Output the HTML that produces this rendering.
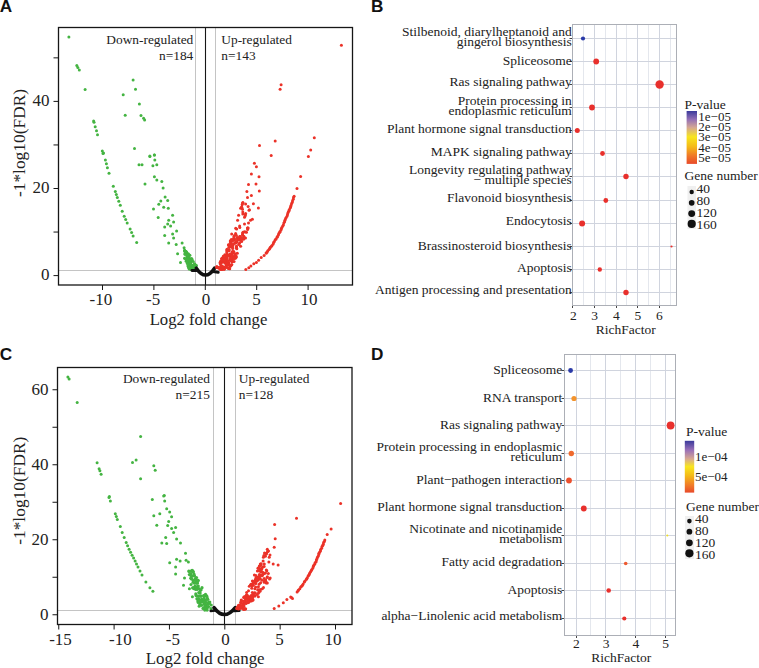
<!DOCTYPE html><html><head><meta charset="utf-8"><style>html,body{margin:0;padding:0;background:#fff;}svg{display:block;}</style></head><body><svg width="759" height="668" viewBox="0 0 759 668">
<rect width="759" height="668" fill="#ffffff"/>
<line x1="58.5" y1="270.5" x2="352.5" y2="270.5" stroke="#c4c4c4" stroke-width="1"/>
<line x1="195.5" y1="27.5" x2="195.5" y2="285.0" stroke="#c4c4c4" stroke-width="1"/>
<line x1="215.5" y1="27.5" x2="215.5" y2="285.0" stroke="#c4c4c4" stroke-width="1"/>
<line x1="205.5" y1="27.5" x2="205.5" y2="285.0" stroke="#161616" stroke-width="1.1"/>
<text x="193.3" y="43.6" font-family="Liberation Serif" font-size="13.4" text-anchor="end" fill="#222" >Down-regulated</text>
<text x="193.3" y="59.6" font-family="Liberation Serif" font-size="13.4" text-anchor="end" fill="#222" >n=184</text>
<text x="221.3" y="43.6" font-family="Liberation Serif" font-size="13.4" text-anchor="start" fill="#222" >Up-regulated</text>
<text x="221.3" y="59.6" font-family="Liberation Serif" font-size="13.4" text-anchor="start" fill="#222" >n=143</text>
<circle cx="68.9" cy="36.9" r="1.5" fill="#44b442"/>
<circle cx="76.8" cy="65.5" r="1.5" fill="#44b442"/>
<circle cx="77.8" cy="67.5" r="1.5" fill="#44b442"/>
<circle cx="79.3" cy="70.1" r="1.5" fill="#44b442"/>
<circle cx="85.1" cy="89.6" r="1.5" fill="#44b442"/>
<circle cx="133.1" cy="80.0" r="1.5" fill="#44b442"/>
<circle cx="135.5" cy="89.3" r="1.5" fill="#44b442"/>
<circle cx="123.2" cy="94.8" r="1.5" fill="#44b442"/>
<circle cx="139.4" cy="104.1" r="1.5" fill="#44b442"/>
<circle cx="125.2" cy="115.3" r="1.5" fill="#44b442"/>
<circle cx="141.0" cy="115.5" r="1.5" fill="#44b442"/>
<circle cx="143.6" cy="118.3" r="1.5" fill="#44b442"/>
<circle cx="144.6" cy="119.9" r="1.5" fill="#44b442"/>
<circle cx="134.5" cy="148.5" r="1.5" fill="#44b442"/>
<circle cx="149.9" cy="156.4" r="1.5" fill="#44b442"/>
<circle cx="154.4" cy="155.1" r="1.5" fill="#44b442"/>
<circle cx="93.6" cy="120.9" r="1.5" fill="#44b442"/>
<circle cx="94.0" cy="122.3" r="1.5" fill="#44b442"/>
<circle cx="95.2" cy="126.8" r="1.5" fill="#44b442"/>
<circle cx="96.5" cy="130.8" r="1.5" fill="#44b442"/>
<circle cx="97.5" cy="134.7" r="1.5" fill="#44b442"/>
<circle cx="102.3" cy="150.9" r="1.5" fill="#44b442"/>
<circle cx="103.0" cy="153.5" r="1.5" fill="#44b442"/>
<circle cx="103.5" cy="153.0" r="1.5" fill="#44b442"/>
<circle cx="105.4" cy="159.9" r="1.5" fill="#44b442"/>
<circle cx="106.4" cy="163.8" r="1.5" fill="#44b442"/>
<circle cx="107.4" cy="167.8" r="1.5" fill="#44b442"/>
<circle cx="109.0" cy="173.3" r="1.5" fill="#44b442"/>
<circle cx="113.3" cy="186.2" r="1.5" fill="#44b442"/>
<circle cx="115.3" cy="191.5" r="1.5" fill="#44b442"/>
<circle cx="116.3" cy="194.4" r="1.5" fill="#44b442"/>
<circle cx="117.3" cy="197.4" r="1.5" fill="#44b442"/>
<circle cx="118.8" cy="201.3" r="1.5" fill="#44b442"/>
<circle cx="120.3" cy="205.3" r="1.5" fill="#44b442"/>
<circle cx="122.2" cy="211.3" r="1.5" fill="#44b442"/>
<circle cx="124.2" cy="216.2" r="1.5" fill="#44b442"/>
<circle cx="125.7" cy="219.6" r="1.5" fill="#44b442"/>
<circle cx="127.2" cy="223.1" r="1.5" fill="#44b442"/>
<circle cx="130.1" cy="229.0" r="1.5" fill="#44b442"/>
<circle cx="131.6" cy="232.5" r="1.5" fill="#44b442"/>
<circle cx="133.1" cy="236.0" r="1.5" fill="#44b442"/>
<circle cx="136.7" cy="242.5" r="1.5" fill="#44b442"/>
<circle cx="149.9" cy="155.9" r="1.5" fill="#44b442"/>
<circle cx="154.4" cy="154.9" r="1.5" fill="#44b442"/>
<circle cx="154.8" cy="159.9" r="1.5" fill="#44b442"/>
<circle cx="156.8" cy="164.8" r="1.5" fill="#44b442"/>
<circle cx="152.9" cy="165.8" r="1.5" fill="#44b442"/>
<circle cx="139.0" cy="164.8" r="1.5" fill="#44b442"/>
<circle cx="142.0" cy="164.8" r="1.5" fill="#44b442"/>
<circle cx="154.4" cy="176.7" r="1.5" fill="#44b442"/>
<circle cx="156.8" cy="180.0" r="1.5" fill="#44b442"/>
<circle cx="161.8" cy="181.6" r="1.5" fill="#44b442"/>
<circle cx="163.1" cy="187.9" r="1.5" fill="#44b442"/>
<circle cx="145.0" cy="184.0" r="1.5" fill="#44b442"/>
<circle cx="165.1" cy="197.0" r="1.5" fill="#44b442"/>
<circle cx="167.7" cy="200.4" r="1.5" fill="#44b442"/>
<circle cx="160.8" cy="201.0" r="1.5" fill="#44b442"/>
<circle cx="158.8" cy="204.3" r="1.5" fill="#44b442"/>
<circle cx="163.7" cy="207.3" r="1.5" fill="#44b442"/>
<circle cx="168.3" cy="208.3" r="1.5" fill="#44b442"/>
<circle cx="153.5" cy="208.9" r="1.5" fill="#44b442"/>
<circle cx="172.6" cy="215.2" r="1.5" fill="#44b442"/>
<circle cx="158.2" cy="217.6" r="1.5" fill="#44b442"/>
<circle cx="168.7" cy="220.2" r="1.5" fill="#44b442"/>
<circle cx="173.6" cy="222.1" r="1.5" fill="#44b442"/>
<circle cx="167.7" cy="224.1" r="1.5" fill="#44b442"/>
<circle cx="170.6" cy="226.1" r="1.5" fill="#44b442"/>
<circle cx="164.7" cy="227.1" r="1.5" fill="#44b442"/>
<circle cx="176.6" cy="231.0" r="1.5" fill="#44b442"/>
<circle cx="172.6" cy="234.0" r="1.5" fill="#44b442"/>
<circle cx="164.7" cy="235.4" r="1.5" fill="#44b442"/>
<circle cx="173.6" cy="238.0" r="1.5" fill="#44b442"/>
<circle cx="168.7" cy="242.9" r="1.5" fill="#44b442"/>
<circle cx="176.2" cy="244.5" r="1.5" fill="#44b442"/>
<circle cx="182.1" cy="242.9" r="1.5" fill="#44b442"/>
<circle cx="184.1" cy="247.8" r="1.5" fill="#44b442"/>
<circle cx="177.6" cy="253.8" r="1.5" fill="#44b442"/>
<circle cx="186.5" cy="252.8" r="1.5" fill="#44b442"/>
<circle cx="184.5" cy="258.3" r="1.5" fill="#44b442"/>
<circle cx="180.5" cy="262.6" r="1.5" fill="#44b442"/>
<circle cx="188.4" cy="258.7" r="1.5" fill="#44b442"/>
<circle cx="190.4" cy="264.6" r="1.5" fill="#44b442"/>
<circle cx="192.4" cy="265.6" r="1.5" fill="#44b442"/>
<circle cx="184.7" cy="250.9" r="1.55" fill="#44b442"/>
<circle cx="189.5" cy="266.4" r="1.55" fill="#44b442"/>
<circle cx="185.5" cy="253.7" r="1.55" fill="#44b442"/>
<circle cx="192.3" cy="268.9" r="1.55" fill="#44b442"/>
<circle cx="185.7" cy="251.5" r="1.55" fill="#44b442"/>
<circle cx="188.0" cy="266.1" r="1.55" fill="#44b442"/>
<circle cx="186.2" cy="261.2" r="1.55" fill="#44b442"/>
<circle cx="188.0" cy="261.3" r="1.55" fill="#44b442"/>
<circle cx="189.9" cy="255.3" r="1.55" fill="#44b442"/>
<circle cx="194.5" cy="263.7" r="1.55" fill="#44b442"/>
<circle cx="187.1" cy="261.1" r="1.55" fill="#44b442"/>
<circle cx="190.9" cy="267.4" r="1.55" fill="#44b442"/>
<circle cx="189.4" cy="264.9" r="1.55" fill="#44b442"/>
<circle cx="185.9" cy="259.3" r="1.55" fill="#44b442"/>
<circle cx="193.2" cy="261.5" r="1.55" fill="#44b442"/>
<circle cx="191.6" cy="258.6" r="1.55" fill="#44b442"/>
<circle cx="195.1" cy="268.8" r="1.55" fill="#44b442"/>
<circle cx="190.2" cy="262.9" r="1.55" fill="#44b442"/>
<circle cx="189.0" cy="263.0" r="1.55" fill="#44b442"/>
<circle cx="186.1" cy="251.5" r="1.55" fill="#44b442"/>
<circle cx="185.5" cy="254.2" r="1.55" fill="#44b442"/>
<circle cx="189.1" cy="267.3" r="1.55" fill="#44b442"/>
<circle cx="191.2" cy="267.6" r="1.55" fill="#44b442"/>
<circle cx="194.9" cy="267.1" r="1.55" fill="#44b442"/>
<circle cx="187.6" cy="257.7" r="1.55" fill="#44b442"/>
<circle cx="188.6" cy="267.6" r="1.55" fill="#44b442"/>
<circle cx="186.2" cy="253.9" r="1.55" fill="#44b442"/>
<circle cx="187.0" cy="259.2" r="1.55" fill="#44b442"/>
<circle cx="188.8" cy="260.9" r="1.55" fill="#44b442"/>
<circle cx="190.8" cy="262.0" r="1.55" fill="#44b442"/>
<circle cx="195.9" cy="265.4" r="1.55" fill="#44b442"/>
<circle cx="195.6" cy="265.8" r="1.55" fill="#44b442"/>
<circle cx="189.1" cy="257.4" r="1.55" fill="#44b442"/>
<circle cx="184.6" cy="250.4" r="1.55" fill="#44b442"/>
<circle cx="186.6" cy="252.4" r="1.55" fill="#44b442"/>
<circle cx="187.2" cy="256.3" r="1.55" fill="#44b442"/>
<circle cx="195.3" cy="269.9" r="1.55" fill="#44b442"/>
<circle cx="190.1" cy="259.2" r="1.55" fill="#44b442"/>
<circle cx="185.0" cy="251.1" r="1.55" fill="#44b442"/>
<circle cx="188.4" cy="254.6" r="1.55" fill="#44b442"/>
<circle cx="190.9" cy="269.5" r="1.55" fill="#44b442"/>
<circle cx="187.3" cy="256.7" r="1.55" fill="#44b442"/>
<circle cx="191.0" cy="265.4" r="1.55" fill="#44b442"/>
<circle cx="188.3" cy="253.7" r="1.55" fill="#44b442"/>
<circle cx="194.8" cy="269.7" r="1.55" fill="#44b442"/>
<circle cx="195.3" cy="265.9" r="1.55" fill="#44b442"/>
<circle cx="194.8" cy="264.5" r="1.55" fill="#44b442"/>
<circle cx="186.9" cy="259.9" r="1.55" fill="#44b442"/>
<circle cx="187.3" cy="263.5" r="1.55" fill="#44b442"/>
<circle cx="186.8" cy="253.8" r="1.55" fill="#44b442"/>
<circle cx="186.5" cy="253.3" r="1.55" fill="#44b442"/>
<circle cx="192.2" cy="267.9" r="1.55" fill="#44b442"/>
<circle cx="192.6" cy="265.8" r="1.55" fill="#44b442"/>
<circle cx="196.1" cy="265.4" r="1.55" fill="#44b442"/>
<circle cx="188.3" cy="265.8" r="1.55" fill="#44b442"/>
<circle cx="189.2" cy="268.9" r="1.55" fill="#44b442"/>
<circle cx="185.5" cy="252.2" r="1.55" fill="#44b442"/>
<circle cx="196.0" cy="265.9" r="1.55" fill="#44b442"/>
<circle cx="188.5" cy="260.5" r="1.55" fill="#44b442"/>
<circle cx="190.9" cy="268.6" r="1.55" fill="#44b442"/>
<circle cx="189.7" cy="267.3" r="1.55" fill="#44b442"/>
<circle cx="187.2" cy="255.2" r="1.55" fill="#44b442"/>
<circle cx="187.0" cy="261.3" r="1.55" fill="#44b442"/>
<circle cx="187.3" cy="257.8" r="1.55" fill="#44b442"/>
<circle cx="188.6" cy="258.6" r="1.55" fill="#44b442"/>
<circle cx="191.7" cy="268.0" r="1.55" fill="#44b442"/>
<circle cx="189.5" cy="268.3" r="1.55" fill="#44b442"/>
<circle cx="190.6" cy="260.2" r="1.55" fill="#44b442"/>
<circle cx="186.1" cy="258.9" r="1.55" fill="#44b442"/>
<circle cx="188.2" cy="259.9" r="1.55" fill="#44b442"/>
<circle cx="191.3" cy="265.5" r="1.55" fill="#44b442"/>
<circle cx="187.2" cy="254.8" r="1.55" fill="#44b442"/>
<circle cx="191.4" cy="265.0" r="1.55" fill="#44b442"/>
<circle cx="192.1" cy="259.6" r="1.55" fill="#44b442"/>
<circle cx="190.7" cy="263.5" r="1.55" fill="#44b442"/>
<circle cx="189.9" cy="260.2" r="1.55" fill="#44b442"/>
<circle cx="190.3" cy="268.8" r="1.55" fill="#44b442"/>
<circle cx="193.2" cy="267.4" r="1.55" fill="#44b442"/>
<circle cx="191.4" cy="268.8" r="1.55" fill="#44b442"/>
<circle cx="184.8" cy="254.1" r="1.55" fill="#44b442"/>
<path d="M196.3,268.2 Q205.6,282 214.5,268.2" fill="none" stroke="#111" stroke-width="3.5" stroke-linecap="round"/><path d="M192,270.4 L196.5,270.5 M213,271.5 L218.2,272.2" fill="none" stroke="#111" stroke-width="3" stroke-linecap="round"/>
<circle cx="341.4" cy="45.2" r="1.5" fill="#eb3228"/>
<circle cx="281.1" cy="84.7" r="1.5" fill="#eb3228"/>
<circle cx="280.1" cy="89.3" r="1.5" fill="#eb3228"/>
<circle cx="314.3" cy="137.7" r="1.5" fill="#eb3228"/>
<circle cx="275.2" cy="141.0" r="1.5" fill="#eb3228"/>
<circle cx="259.5" cy="145.6" r="1.5" fill="#eb3228"/>
<circle cx="310.7" cy="150.1" r="1.5" fill="#eb3228"/>
<circle cx="271.2" cy="155.5" r="1.5" fill="#eb3228"/>
<circle cx="308.4" cy="156.4" r="1.5" fill="#eb3228"/>
<circle cx="245.8" cy="269.4" r="1.5" fill="#eb3228"/>
<circle cx="248.8" cy="267.8" r="1.5" fill="#eb3228"/>
<circle cx="250.9" cy="265.9" r="1.5" fill="#eb3228"/>
<circle cx="253.8" cy="263.8" r="1.5" fill="#eb3228"/>
<circle cx="256.4" cy="262.5" r="1.5" fill="#eb3228"/>
<circle cx="258.6" cy="260.2" r="1.5" fill="#eb3228"/>
<circle cx="261.2" cy="257.6" r="1.5" fill="#eb3228"/>
<circle cx="264.1" cy="255.6" r="1.5" fill="#eb3228"/>
<circle cx="266.3" cy="253.1" r="1.5" fill="#eb3228"/>
<circle cx="266.1" cy="253.1" r="1.5" fill="#eb3228"/>
<circle cx="267.2" cy="251.9" r="1.5" fill="#eb3228"/>
<circle cx="267.8" cy="250.7" r="1.5" fill="#eb3228"/>
<circle cx="269.0" cy="249.4" r="1.5" fill="#eb3228"/>
<circle cx="269.8" cy="248.5" r="1.5" fill="#eb3228"/>
<circle cx="270.3" cy="247.3" r="1.5" fill="#eb3228"/>
<circle cx="271.5" cy="246.3" r="1.5" fill="#eb3228"/>
<circle cx="272.0" cy="245.4" r="1.5" fill="#eb3228"/>
<circle cx="273.2" cy="244.1" r="1.5" fill="#eb3228"/>
<circle cx="273.6" cy="242.4" r="1.5" fill="#eb3228"/>
<circle cx="274.3" cy="241.4" r="1.5" fill="#eb3228"/>
<circle cx="275.2" cy="239.8" r="1.5" fill="#eb3228"/>
<circle cx="276.1" cy="239.0" r="1.5" fill="#eb3228"/>
<circle cx="277.1" cy="237.3" r="1.5" fill="#eb3228"/>
<circle cx="277.4" cy="236.4" r="1.5" fill="#eb3228"/>
<circle cx="278.4" cy="235.0" r="1.5" fill="#eb3228"/>
<circle cx="278.8" cy="233.4" r="1.5" fill="#eb3228"/>
<circle cx="279.8" cy="232.3" r="1.5" fill="#eb3228"/>
<circle cx="280.0" cy="231.4" r="1.5" fill="#eb3228"/>
<circle cx="281.0" cy="230.0" r="1.5" fill="#eb3228"/>
<circle cx="281.3" cy="228.8" r="1.5" fill="#eb3228"/>
<circle cx="281.9" cy="227.5" r="1.5" fill="#eb3228"/>
<circle cx="282.7" cy="226.0" r="1.5" fill="#eb3228"/>
<circle cx="283.4" cy="225.1" r="1.5" fill="#eb3228"/>
<circle cx="283.8" cy="223.1" r="1.5" fill="#eb3228"/>
<circle cx="284.6" cy="221.8" r="1.5" fill="#eb3228"/>
<circle cx="284.9" cy="220.3" r="1.5" fill="#eb3228"/>
<circle cx="285.5" cy="218.8" r="1.5" fill="#eb3228"/>
<circle cx="286.2" cy="217.5" r="1.5" fill="#eb3228"/>
<circle cx="287.1" cy="216.0" r="1.5" fill="#eb3228"/>
<circle cx="287.5" cy="214.5" r="1.5" fill="#eb3228"/>
<circle cx="287.9" cy="213.1" r="1.5" fill="#eb3228"/>
<circle cx="288.4" cy="211.7" r="1.5" fill="#eb3228"/>
<circle cx="289.1" cy="210.7" r="1.5" fill="#eb3228"/>
<circle cx="289.3" cy="209.4" r="1.5" fill="#eb3228"/>
<circle cx="290.3" cy="207.8" r="1.5" fill="#eb3228"/>
<circle cx="290.7" cy="206.7" r="1.5" fill="#eb3228"/>
<circle cx="291.0" cy="205.4" r="1.5" fill="#eb3228"/>
<circle cx="291.5" cy="203.7" r="1.5" fill="#eb3228"/>
<circle cx="292.2" cy="202.5" r="1.5" fill="#eb3228"/>
<circle cx="292.5" cy="200.9" r="1.5" fill="#eb3228"/>
<circle cx="293.2" cy="199.3" r="1.5" fill="#eb3228"/>
<circle cx="293.5" cy="197.6" r="1.5" fill="#eb3228"/>
<circle cx="294.1" cy="196.2" r="1.5" fill="#eb3228"/>
<circle cx="297.0" cy="188.5" r="1.5" fill="#eb3228"/>
<circle cx="300.6" cy="176.4" r="1.5" fill="#eb3228"/>
<circle cx="254.4" cy="163.2" r="1.5" fill="#eb3228"/>
<circle cx="256.4" cy="166.8" r="1.5" fill="#eb3228"/>
<circle cx="251.4" cy="174.1" r="1.5" fill="#eb3228"/>
<circle cx="259.0" cy="176.7" r="1.5" fill="#eb3228"/>
<circle cx="248.5" cy="184.6" r="1.5" fill="#eb3228"/>
<circle cx="256.0" cy="184.0" r="1.5" fill="#eb3228"/>
<circle cx="246.9" cy="191.5" r="1.5" fill="#eb3228"/>
<circle cx="259.3" cy="191.1" r="1.5" fill="#eb3228"/>
<circle cx="247.5" cy="197.4" r="1.5" fill="#eb3228"/>
<circle cx="251.4" cy="195.5" r="1.5" fill="#eb3228"/>
<circle cx="253.4" cy="203.8" r="1.5" fill="#eb3228"/>
<circle cx="242.5" cy="203.4" r="1.5" fill="#eb3228"/>
<circle cx="258.4" cy="207.9" r="1.5" fill="#eb3228"/>
<circle cx="240.6" cy="208.3" r="1.5" fill="#eb3228"/>
<circle cx="238.6" cy="215.2" r="1.5" fill="#eb3228"/>
<circle cx="244.5" cy="217.2" r="1.5" fill="#eb3228"/>
<circle cx="252.4" cy="219.2" r="1.5" fill="#eb3228"/>
<circle cx="237.6" cy="220.2" r="1.5" fill="#eb3228"/>
<circle cx="248.5" cy="223.1" r="1.5" fill="#eb3228"/>
<circle cx="239.6" cy="226.1" r="1.5" fill="#eb3228"/>
<circle cx="247.5" cy="228.1" r="1.5" fill="#eb3228"/>
<circle cx="236.6" cy="229.0" r="1.5" fill="#eb3228"/>
<circle cx="245.5" cy="232.0" r="1.5" fill="#eb3228"/>
<circle cx="231.7" cy="234.0" r="1.5" fill="#eb3228"/>
<circle cx="242.5" cy="235.0" r="1.5" fill="#eb3228"/>
<circle cx="245.5" cy="238.0" r="1.5" fill="#eb3228"/>
<circle cx="234.6" cy="238.9" r="1.5" fill="#eb3228"/>
<circle cx="230.7" cy="240.9" r="1.5" fill="#eb3228"/>
<circle cx="239.6" cy="242.9" r="1.5" fill="#eb3228"/>
<circle cx="228.7" cy="244.9" r="1.5" fill="#eb3228"/>
<circle cx="236.6" cy="246.8" r="1.5" fill="#eb3228"/>
<circle cx="226.7" cy="250.8" r="1.5" fill="#eb3228"/>
<circle cx="232.7" cy="252.8" r="1.5" fill="#eb3228"/>
<circle cx="224.8" cy="254.7" r="1.5" fill="#eb3228"/>
<circle cx="230.7" cy="256.7" r="1.5" fill="#eb3228"/>
<circle cx="222.8" cy="258.7" r="1.5" fill="#eb3228"/>
<circle cx="226.7" cy="261.7" r="1.5" fill="#eb3228"/>
<circle cx="220.8" cy="263.6" r="1.5" fill="#eb3228"/>
<circle cx="216.9" cy="266.6" r="1.5" fill="#eb3228"/>
<circle cx="217.5" cy="267.6" r="1.55" fill="#eb3228"/>
<circle cx="221.9" cy="258.6" r="1.55" fill="#eb3228"/>
<circle cx="222.2" cy="261.9" r="1.55" fill="#eb3228"/>
<circle cx="221.5" cy="269.4" r="1.55" fill="#eb3228"/>
<circle cx="222.5" cy="260.3" r="1.55" fill="#eb3228"/>
<circle cx="226.2" cy="262.5" r="1.55" fill="#eb3228"/>
<circle cx="220.1" cy="262.6" r="1.55" fill="#eb3228"/>
<circle cx="222.4" cy="258.5" r="1.55" fill="#eb3228"/>
<circle cx="228.7" cy="262.9" r="1.55" fill="#eb3228"/>
<circle cx="224.3" cy="259.9" r="1.55" fill="#eb3228"/>
<circle cx="231.8" cy="264.6" r="1.55" fill="#eb3228"/>
<circle cx="216.6" cy="267.5" r="1.55" fill="#eb3228"/>
<circle cx="226.9" cy="267.5" r="1.55" fill="#eb3228"/>
<circle cx="228.7" cy="268.4" r="1.55" fill="#eb3228"/>
<circle cx="230.9" cy="265.4" r="1.55" fill="#eb3228"/>
<circle cx="218.0" cy="267.5" r="1.55" fill="#eb3228"/>
<circle cx="228.1" cy="264.4" r="1.55" fill="#eb3228"/>
<circle cx="229.6" cy="265.2" r="1.55" fill="#eb3228"/>
<circle cx="226.6" cy="255.0" r="1.55" fill="#eb3228"/>
<circle cx="226.9" cy="263.0" r="1.55" fill="#eb3228"/>
<circle cx="230.4" cy="256.0" r="1.55" fill="#eb3228"/>
<circle cx="232.1" cy="258.8" r="1.55" fill="#eb3228"/>
<circle cx="231.9" cy="258.1" r="1.55" fill="#eb3228"/>
<circle cx="226.7" cy="260.7" r="1.55" fill="#eb3228"/>
<circle cx="226.3" cy="265.3" r="1.55" fill="#eb3228"/>
<circle cx="230.0" cy="256.2" r="1.55" fill="#eb3228"/>
<circle cx="232.2" cy="259.6" r="1.55" fill="#eb3228"/>
<circle cx="228.3" cy="255.2" r="1.55" fill="#eb3228"/>
<circle cx="230.7" cy="265.4" r="1.55" fill="#eb3228"/>
<circle cx="230.7" cy="259.4" r="1.55" fill="#eb3228"/>
<circle cx="227.2" cy="262.0" r="1.55" fill="#eb3228"/>
<circle cx="226.0" cy="256.8" r="1.55" fill="#eb3228"/>
<circle cx="235.6" cy="258.0" r="1.55" fill="#eb3228"/>
<circle cx="225.7" cy="259.0" r="1.55" fill="#eb3228"/>
<circle cx="220.3" cy="269.2" r="1.55" fill="#eb3228"/>
<circle cx="220.3" cy="263.7" r="1.55" fill="#eb3228"/>
<circle cx="220.8" cy="268.5" r="1.55" fill="#eb3228"/>
<circle cx="226.5" cy="255.4" r="1.55" fill="#eb3228"/>
<circle cx="225.7" cy="259.5" r="1.55" fill="#eb3228"/>
<circle cx="222.7" cy="267.6" r="1.55" fill="#eb3228"/>
<circle cx="234.4" cy="256.8" r="1.55" fill="#eb3228"/>
<circle cx="223.9" cy="260.9" r="1.55" fill="#eb3228"/>
<circle cx="223.7" cy="261.4" r="1.55" fill="#eb3228"/>
<circle cx="217.9" cy="267.5" r="1.55" fill="#eb3228"/>
<circle cx="222.0" cy="269.0" r="1.55" fill="#eb3228"/>
<circle cx="227.0" cy="257.8" r="1.55" fill="#eb3228"/>
<circle cx="224.0" cy="269.3" r="1.55" fill="#eb3228"/>
<circle cx="229.7" cy="268.7" r="1.55" fill="#eb3228"/>
<circle cx="231.7" cy="255.7" r="1.55" fill="#eb3228"/>
<circle cx="232.0" cy="261.8" r="1.55" fill="#eb3228"/>
<circle cx="236.4" cy="256.9" r="1.55" fill="#eb3228"/>
<circle cx="226.2" cy="260.2" r="1.55" fill="#eb3228"/>
<circle cx="222.3" cy="266.1" r="1.55" fill="#eb3228"/>
<circle cx="230.3" cy="259.5" r="1.55" fill="#eb3228"/>
<circle cx="228.1" cy="260.9" r="1.55" fill="#eb3228"/>
<circle cx="220.3" cy="268.6" r="1.55" fill="#eb3228"/>
<circle cx="226.7" cy="258.3" r="1.55" fill="#eb3228"/>
<circle cx="225.7" cy="257.1" r="1.55" fill="#eb3228"/>
<circle cx="223.3" cy="256.4" r="1.55" fill="#eb3228"/>
<circle cx="228.4" cy="268.3" r="1.55" fill="#eb3228"/>
<circle cx="232.4" cy="261.2" r="1.55" fill="#eb3228"/>
<circle cx="224.9" cy="262.9" r="1.55" fill="#eb3228"/>
<circle cx="224.0" cy="260.1" r="1.55" fill="#eb3228"/>
<circle cx="226.9" cy="264.4" r="1.55" fill="#eb3228"/>
<circle cx="234.9" cy="258.2" r="1.55" fill="#eb3228"/>
<circle cx="221.7" cy="258.7" r="1.55" fill="#eb3228"/>
<circle cx="224.6" cy="261.7" r="1.55" fill="#eb3228"/>
<circle cx="235.2" cy="255.3" r="1.55" fill="#eb3228"/>
<circle cx="228.8" cy="255.0" r="1.55" fill="#eb3228"/>
<circle cx="224.4" cy="268.9" r="1.55" fill="#eb3228"/>
<circle cx="227.3" cy="265.2" r="1.55" fill="#eb3228"/>
<circle cx="230.1" cy="266.5" r="1.55" fill="#eb3228"/>
<circle cx="225.8" cy="263.3" r="1.55" fill="#eb3228"/>
<circle cx="220.8" cy="268.8" r="1.55" fill="#eb3228"/>
<circle cx="230.1" cy="259.6" r="1.55" fill="#eb3228"/>
<circle cx="229.9" cy="265.5" r="1.55" fill="#eb3228"/>
<circle cx="227.3" cy="263.7" r="1.55" fill="#eb3228"/>
<circle cx="224.3" cy="258.4" r="1.55" fill="#eb3228"/>
<circle cx="229.1" cy="255.2" r="1.55" fill="#eb3228"/>
<circle cx="222.4" cy="261.9" r="1.55" fill="#eb3228"/>
<circle cx="226.8" cy="265.1" r="1.55" fill="#eb3228"/>
<circle cx="225.0" cy="258.9" r="1.55" fill="#eb3228"/>
<circle cx="223.2" cy="261.3" r="1.55" fill="#eb3228"/>
<circle cx="230.9" cy="258.0" r="1.55" fill="#eb3228"/>
<circle cx="226.9" cy="258.1" r="1.55" fill="#eb3228"/>
<circle cx="234.0" cy="258.5" r="1.55" fill="#eb3228"/>
<circle cx="220.6" cy="266.4" r="1.55" fill="#eb3228"/>
<circle cx="222.2" cy="269.3" r="1.55" fill="#eb3228"/>
<circle cx="226.7" cy="257.8" r="1.55" fill="#eb3228"/>
<circle cx="220.6" cy="261.3" r="1.55" fill="#eb3228"/>
<circle cx="219.8" cy="269.0" r="1.55" fill="#eb3228"/>
<circle cx="232.3" cy="255.5" r="1.55" fill="#eb3228"/>
<circle cx="230.5" cy="260.7" r="1.55" fill="#eb3228"/>
<circle cx="224.0" cy="260.0" r="1.55" fill="#eb3228"/>
<circle cx="221.9" cy="260.3" r="1.55" fill="#eb3228"/>
<circle cx="223.6" cy="267.3" r="1.55" fill="#eb3228"/>
<circle cx="234.0" cy="261.5" r="1.55" fill="#eb3228"/>
<circle cx="223.9" cy="268.8" r="1.55" fill="#eb3228"/>
<circle cx="235.7" cy="255.5" r="1.55" fill="#eb3228"/>
<circle cx="224.8" cy="267.2" r="1.55" fill="#eb3228"/>
<circle cx="240.0" cy="236.6" r="1.55" fill="#eb3228"/>
<circle cx="230.8" cy="241.0" r="1.55" fill="#eb3228"/>
<circle cx="229.1" cy="249.6" r="1.55" fill="#eb3228"/>
<circle cx="230.3" cy="241.1" r="1.55" fill="#eb3228"/>
<circle cx="243.8" cy="236.3" r="1.55" fill="#eb3228"/>
<circle cx="228.5" cy="244.9" r="1.55" fill="#eb3228"/>
<circle cx="231.8" cy="240.6" r="1.55" fill="#eb3228"/>
<circle cx="232.7" cy="245.3" r="1.55" fill="#eb3228"/>
<circle cx="243.5" cy="239.3" r="1.55" fill="#eb3228"/>
<circle cx="236.6" cy="242.1" r="1.55" fill="#eb3228"/>
<circle cx="230.4" cy="242.7" r="1.55" fill="#eb3228"/>
<circle cx="240.3" cy="237.3" r="1.55" fill="#eb3228"/>
<circle cx="227.7" cy="250.3" r="1.55" fill="#eb3228"/>
<circle cx="230.5" cy="254.6" r="1.55" fill="#eb3228"/>
<circle cx="238.8" cy="244.4" r="1.55" fill="#eb3228"/>
<circle cx="236.8" cy="248.7" r="1.55" fill="#eb3228"/>
<circle cx="237.8" cy="238.1" r="1.55" fill="#eb3228"/>
<circle cx="241.6" cy="241.4" r="1.55" fill="#eb3228"/>
<circle cx="235.7" cy="243.0" r="1.55" fill="#eb3228"/>
<circle cx="239.4" cy="239.6" r="1.55" fill="#eb3228"/>
<circle cx="226.8" cy="252.8" r="1.55" fill="#eb3228"/>
<circle cx="235.9" cy="242.1" r="1.55" fill="#eb3228"/>
<circle cx="232.0" cy="254.9" r="1.55" fill="#eb3228"/>
<circle cx="234.4" cy="240.2" r="1.55" fill="#eb3228"/>
<circle cx="233.7" cy="251.5" r="1.55" fill="#eb3228"/>
<circle cx="229.1" cy="250.7" r="1.55" fill="#eb3228"/>
<circle cx="243.8" cy="237.8" r="1.55" fill="#eb3228"/>
<circle cx="236.3" cy="247.7" r="1.55" fill="#eb3228"/>
<circle cx="229.0" cy="247.3" r="1.55" fill="#eb3228"/>
<circle cx="237.5" cy="239.7" r="1.55" fill="#eb3228"/>
<circle cx="238.1" cy="239.4" r="1.55" fill="#eb3228"/>
<circle cx="240.6" cy="246.3" r="1.55" fill="#eb3228"/>
<circle cx="232.0" cy="246.4" r="1.55" fill="#eb3228"/>
<circle cx="237.2" cy="237.6" r="1.55" fill="#eb3228"/>
<circle cx="227.0" cy="249.2" r="1.55" fill="#eb3228"/>
<circle cx="232.3" cy="241.2" r="1.55" fill="#eb3228"/>
<circle cx="230.1" cy="254.1" r="1.55" fill="#eb3228"/>
<circle cx="230.2" cy="246.7" r="1.55" fill="#eb3228"/>
<circle cx="231.2" cy="243.8" r="1.55" fill="#eb3228"/>
<circle cx="231.3" cy="239.6" r="1.55" fill="#eb3228"/>
<circle cx="239.2" cy="239.7" r="1.55" fill="#eb3228"/>
<circle cx="232.6" cy="251.6" r="1.55" fill="#eb3228"/>
<circle cx="232.2" cy="252.8" r="1.55" fill="#eb3228"/>
<circle cx="233.4" cy="238.9" r="1.55" fill="#eb3228"/>
<circle cx="237.3" cy="253.3" r="1.55" fill="#eb3228"/>
<circle cx="231.5" cy="245.5" r="1.55" fill="#eb3228"/>
<circle cx="234.7" cy="253.6" r="1.55" fill="#eb3228"/>
<circle cx="233.9" cy="236.8" r="1.55" fill="#eb3228"/>
<circle cx="241.2" cy="238.9" r="1.55" fill="#eb3228"/>
<circle cx="240.4" cy="240.1" r="1.55" fill="#eb3228"/>
<circle cx="232.2" cy="252.0" r="1.55" fill="#eb3228"/>
<circle cx="241.3" cy="239.3" r="1.55" fill="#eb3228"/>
<circle cx="234.6" cy="243.2" r="1.55" fill="#eb3228"/>
<circle cx="239.8" cy="236.5" r="1.55" fill="#eb3228"/>
<circle cx="241.5" cy="238.1" r="1.55" fill="#eb3228"/>
<circle cx="236.4" cy="246.4" r="1.55" fill="#eb3228"/>
<circle cx="237.0" cy="241.7" r="1.55" fill="#eb3228"/>
<circle cx="232.5" cy="247.0" r="1.55" fill="#eb3228"/>
<circle cx="232.7" cy="248.4" r="1.55" fill="#eb3228"/>
<circle cx="233.1" cy="244.2" r="1.55" fill="#eb3228"/>
<circle cx="242.5" cy="209.2" r="1.5" fill="#eb3228"/>
<circle cx="248.2" cy="228.1" r="1.5" fill="#eb3228"/>
<circle cx="241.8" cy="207.2" r="1.5" fill="#eb3228"/>
<circle cx="242.1" cy="204.7" r="1.5" fill="#eb3228"/>
<circle cx="242.9" cy="202.4" r="1.5" fill="#eb3228"/>
<circle cx="245.6" cy="203.9" r="1.5" fill="#eb3228"/>
<circle cx="247.6" cy="228.1" r="1.5" fill="#eb3228"/>
<circle cx="242.9" cy="202.9" r="1.5" fill="#eb3228"/>
<circle cx="242.8" cy="214.1" r="1.5" fill="#eb3228"/>
<circle cx="247.6" cy="229.4" r="1.5" fill="#eb3228"/>
<circle cx="236.3" cy="235.2" r="1.5" fill="#eb3228"/>
<circle cx="242.5" cy="234.3" r="1.5" fill="#eb3228"/>
<circle cx="248.1" cy="206.5" r="1.5" fill="#eb3228"/>
<circle cx="242.7" cy="233.0" r="1.5" fill="#eb3228"/>
<circle cx="242.8" cy="212.1" r="1.5" fill="#eb3228"/>
<circle cx="235.6" cy="233.6" r="1.5" fill="#eb3228"/>
<circle cx="246.5" cy="232.2" r="1.5" fill="#eb3228"/>
<circle cx="235.7" cy="228.3" r="1.5" fill="#eb3228"/>
<circle cx="245.6" cy="213.5" r="1.5" fill="#eb3228"/>
<circle cx="250.5" cy="220.3" r="1.5" fill="#eb3228"/>
<circle cx="244.4" cy="231.7" r="1.5" fill="#eb3228"/>
<circle cx="234.4" cy="235.6" r="1.5" fill="#eb3228"/>
<circle cx="245.4" cy="214.7" r="1.5" fill="#eb3228"/>
<circle cx="249.0" cy="210.2" r="1.5" fill="#eb3228"/>
<circle cx="239.8" cy="227.6" r="1.5" fill="#eb3228"/>
<circle cx="241.5" cy="207.2" r="1.5" fill="#eb3228"/>
<circle cx="249.4" cy="209.8" r="1.5" fill="#eb3228"/>
<circle cx="244.5" cy="224.1" r="1.5" fill="#eb3228"/>
<circle cx="245.1" cy="216.0" r="1.5" fill="#eb3228"/>
<circle cx="243.0" cy="232.2" r="1.5" fill="#eb3228"/>
<rect x="58.5" y="27.5" width="294.0" height="257.5" fill="none" stroke="#161616" stroke-width="1.3"/>
<line x1="102.50000000000001" y1="285.0" x2="102.50000000000001" y2="290.0" stroke="#161616" stroke-width="1"/>
<text x="100.9" y="304.8" font-family="Liberation Serif" font-size="17" text-anchor="middle" fill="#222" >-10</text>
<line x1="153.9" y1="285.0" x2="153.9" y2="290.0" stroke="#161616" stroke-width="1"/>
<text x="153.1" y="304.8" font-family="Liberation Serif" font-size="17" text-anchor="middle" fill="#222" >-5</text>
<line x1="205.3" y1="285.0" x2="205.3" y2="290.0" stroke="#161616" stroke-width="1"/>
<text x="205.9" y="304.8" font-family="Liberation Serif" font-size="17" text-anchor="middle" fill="#222" >0</text>
<line x1="256.7" y1="285.0" x2="256.7" y2="290.0" stroke="#161616" stroke-width="1"/>
<text x="256.5" y="304.8" font-family="Liberation Serif" font-size="17" text-anchor="middle" fill="#222" >5</text>
<line x1="308.1" y1="285.0" x2="308.1" y2="290.0" stroke="#161616" stroke-width="1"/>
<text x="309.1" y="304.8" font-family="Liberation Serif" font-size="17" text-anchor="middle" fill="#222" >10</text>
<line x1="53.5" y1="275.6" x2="58.5" y2="275.6" stroke="#161616" stroke-width="1"/>
<text x="49.5" y="280.40000000000003" font-family="Liberation Serif" font-size="17" text-anchor="end" fill="#222" >0</text>
<line x1="53.5" y1="232.05" x2="58.5" y2="232.05" stroke="#161616" stroke-width="1"/>
<line x1="53.5" y1="188.5" x2="58.5" y2="188.5" stroke="#161616" stroke-width="1"/>
<text x="49.5" y="193.3" font-family="Liberation Serif" font-size="17" text-anchor="end" fill="#222" >20</text>
<line x1="53.5" y1="144.95000000000002" x2="58.5" y2="144.95000000000002" stroke="#161616" stroke-width="1"/>
<line x1="53.5" y1="101.4" x2="58.5" y2="101.4" stroke="#161616" stroke-width="1"/>
<text x="49.5" y="106.2" font-family="Liberation Serif" font-size="17" text-anchor="end" fill="#222" >40</text>
<line x1="53.5" y1="57.849999999999994" x2="58.5" y2="57.849999999999994" stroke="#161616" stroke-width="1"/>
<text x="208.5" y="324.5" font-family="Liberation Serif" font-size="16.7" text-anchor="middle" fill="#222" >Log2 fold change</text>
<text transform="translate(24.8,143) rotate(-90)" font-family="Liberation Serif" font-size="17.4" text-anchor="middle" fill="#222">-1*log10(FDR)</text>
<line x1="57.5" y1="610.5" x2="352.0" y2="610.5" stroke="#c4c4c4" stroke-width="1"/>
<line x1="213.5" y1="367.5" x2="213.5" y2="624.5" stroke="#c4c4c4" stroke-width="1"/>
<line x1="235.5" y1="367.5" x2="235.5" y2="624.5" stroke="#c4c4c4" stroke-width="1"/>
<line x1="224.5" y1="367.5" x2="224.5" y2="624.5" stroke="#161616" stroke-width="1.1"/>
<text x="209.9" y="383.3" font-family="Liberation Serif" font-size="13.4" text-anchor="end" fill="#222" >Down-regulated</text>
<text x="209.9" y="398.8" font-family="Liberation Serif" font-size="13.4" text-anchor="end" fill="#222" >n=215</text>
<text x="238.8" y="383.3" font-family="Liberation Serif" font-size="13.4" text-anchor="start" fill="#222" >Up-regulated</text>
<text x="238.8" y="398.8" font-family="Liberation Serif" font-size="13.4" text-anchor="start" fill="#222" >n=128</text>
<circle cx="67.9" cy="376.9" r="1.5" fill="#44b442"/>
<circle cx="69.1" cy="378.9" r="1.5" fill="#44b442"/>
<circle cx="77.2" cy="402.6" r="1.5" fill="#44b442"/>
<circle cx="140.6" cy="436.6" r="1.5" fill="#44b442"/>
<circle cx="132.5" cy="462.5" r="1.5" fill="#44b442"/>
<circle cx="136.1" cy="459.9" r="1.5" fill="#44b442"/>
<circle cx="153.8" cy="465.8" r="1.5" fill="#44b442"/>
<circle cx="155.2" cy="470.2" r="1.5" fill="#44b442"/>
<circle cx="140.6" cy="478.7" r="1.5" fill="#44b442"/>
<circle cx="164.3" cy="495.5" r="1.5" fill="#44b442"/>
<circle cx="163.7" cy="495.9" r="1.5" fill="#44b442"/>
<circle cx="164.7" cy="500.9" r="1.5" fill="#44b442"/>
<circle cx="152.3" cy="499.5" r="1.5" fill="#44b442"/>
<circle cx="97.1" cy="462.8" r="1.5" fill="#44b442"/>
<circle cx="99.1" cy="468.8" r="1.5" fill="#44b442"/>
<circle cx="99.9" cy="470.8" r="1.5" fill="#44b442"/>
<circle cx="101.1" cy="474.3" r="1.5" fill="#44b442"/>
<circle cx="109.4" cy="496.4" r="1.5" fill="#44b442"/>
<circle cx="109.0" cy="497.5" r="1.5" fill="#44b442"/>
<circle cx="110.4" cy="500.9" r="1.5" fill="#44b442"/>
<circle cx="115.3" cy="513.7" r="1.5" fill="#44b442"/>
<circle cx="116.3" cy="516.6" r="1.5" fill="#44b442"/>
<circle cx="117.3" cy="519.6" r="1.5" fill="#44b442"/>
<circle cx="120.3" cy="526.6" r="1.5" fill="#44b442"/>
<circle cx="122.2" cy="532.5" r="1.5" fill="#44b442"/>
<circle cx="124.2" cy="537.4" r="1.5" fill="#44b442"/>
<circle cx="126.2" cy="542.4" r="1.5" fill="#44b442"/>
<circle cx="127.6" cy="545.8" r="1.5" fill="#44b442"/>
<circle cx="129.1" cy="549.3" r="1.5" fill="#44b442"/>
<circle cx="130.6" cy="552.2" r="1.5" fill="#44b442"/>
<circle cx="132.1" cy="555.2" r="1.5" fill="#44b442"/>
<circle cx="133.6" cy="558.1" r="1.5" fill="#44b442"/>
<circle cx="135.1" cy="561.1" r="1.5" fill="#44b442"/>
<circle cx="136.5" cy="564.1" r="1.5" fill="#44b442"/>
<circle cx="138.0" cy="567.1" r="1.5" fill="#44b442"/>
<circle cx="140.0" cy="571.0" r="1.5" fill="#44b442"/>
<circle cx="142.0" cy="575.0" r="1.5" fill="#44b442"/>
<circle cx="145.9" cy="581.9" r="1.5" fill="#44b442"/>
<circle cx="149.9" cy="587.8" r="1.5" fill="#44b442"/>
<circle cx="152.9" cy="591.2" r="1.5" fill="#44b442"/>
<circle cx="153.8" cy="515.7" r="1.5" fill="#44b442"/>
<circle cx="159.8" cy="513.7" r="1.5" fill="#44b442"/>
<circle cx="166.7" cy="508.8" r="1.5" fill="#44b442"/>
<circle cx="169.7" cy="512.1" r="1.5" fill="#44b442"/>
<circle cx="171.6" cy="516.7" r="1.5" fill="#44b442"/>
<circle cx="168.7" cy="521.6" r="1.5" fill="#44b442"/>
<circle cx="156.8" cy="525.2" r="1.5" fill="#44b442"/>
<circle cx="167.7" cy="525.6" r="1.5" fill="#44b442"/>
<circle cx="171.6" cy="528.5" r="1.5" fill="#44b442"/>
<circle cx="175.6" cy="527.5" r="1.5" fill="#44b442"/>
<circle cx="173.6" cy="532.5" r="1.5" fill="#44b442"/>
<circle cx="165.7" cy="537.4" r="1.5" fill="#44b442"/>
<circle cx="176.6" cy="539.0" r="1.5" fill="#44b442"/>
<circle cx="161.8" cy="543.0" r="1.5" fill="#44b442"/>
<circle cx="166.7" cy="543.4" r="1.5" fill="#44b442"/>
<circle cx="180.5" cy="543.0" r="1.5" fill="#44b442"/>
<circle cx="185.5" cy="553.2" r="1.5" fill="#44b442"/>
<circle cx="176.6" cy="559.2" r="1.5" fill="#44b442"/>
<circle cx="169.7" cy="562.7" r="1.5" fill="#44b442"/>
<circle cx="180.1" cy="561.1" r="1.5" fill="#44b442"/>
<circle cx="186.1" cy="560.2" r="1.5" fill="#44b442"/>
<circle cx="188.4" cy="562.1" r="1.5" fill="#44b442"/>
<circle cx="175.6" cy="567.1" r="1.5" fill="#44b442"/>
<circle cx="175.6" cy="574.0" r="1.5" fill="#44b442"/>
<circle cx="184.5" cy="577.9" r="1.5" fill="#44b442"/>
<circle cx="183.5" cy="585.3" r="1.5" fill="#44b442"/>
<circle cx="188.8" cy="571.0" r="1.5" fill="#44b442"/>
<circle cx="193.4" cy="572.0" r="1.5" fill="#44b442"/>
<circle cx="189.4" cy="588.8" r="1.5" fill="#44b442"/>
<circle cx="192.4" cy="596.7" r="1.5" fill="#44b442"/>
<circle cx="191.6" cy="579.1" r="1.6" fill="#44b442"/>
<circle cx="191.0" cy="584.5" r="1.6" fill="#44b442"/>
<circle cx="194.4" cy="575.9" r="1.6" fill="#44b442"/>
<circle cx="209.8" cy="602.0" r="1.6" fill="#44b442"/>
<circle cx="198.3" cy="580.6" r="1.6" fill="#44b442"/>
<circle cx="200.9" cy="596.2" r="1.6" fill="#44b442"/>
<circle cx="196.0" cy="582.1" r="1.6" fill="#44b442"/>
<circle cx="207.7" cy="599.2" r="1.6" fill="#44b442"/>
<circle cx="194.0" cy="574.0" r="1.6" fill="#44b442"/>
<circle cx="205.5" cy="604.6" r="1.6" fill="#44b442"/>
<circle cx="202.0" cy="587.7" r="1.6" fill="#44b442"/>
<circle cx="194.8" cy="579.5" r="1.6" fill="#44b442"/>
<circle cx="206.7" cy="608.7" r="1.6" fill="#44b442"/>
<circle cx="203.9" cy="598.3" r="1.6" fill="#44b442"/>
<circle cx="204.8" cy="610.1" r="1.6" fill="#44b442"/>
<circle cx="199.9" cy="604.4" r="1.6" fill="#44b442"/>
<circle cx="205.6" cy="605.1" r="1.6" fill="#44b442"/>
<circle cx="199.2" cy="599.6" r="1.6" fill="#44b442"/>
<circle cx="192.0" cy="570.8" r="1.6" fill="#44b442"/>
<circle cx="189.1" cy="571.4" r="1.6" fill="#44b442"/>
<circle cx="205.4" cy="595.9" r="1.6" fill="#44b442"/>
<circle cx="205.5" cy="600.1" r="1.6" fill="#44b442"/>
<circle cx="208.6" cy="606.5" r="1.6" fill="#44b442"/>
<circle cx="210.9" cy="608.7" r="1.6" fill="#44b442"/>
<circle cx="191.0" cy="578.2" r="1.6" fill="#44b442"/>
<circle cx="191.2" cy="571.1" r="1.6" fill="#44b442"/>
<circle cx="209.3" cy="603.2" r="1.6" fill="#44b442"/>
<circle cx="204.0" cy="603.8" r="1.6" fill="#44b442"/>
<circle cx="190.9" cy="573.7" r="1.6" fill="#44b442"/>
<circle cx="196.3" cy="587.2" r="1.6" fill="#44b442"/>
<circle cx="197.5" cy="583.0" r="1.6" fill="#44b442"/>
<circle cx="199.1" cy="601.6" r="1.6" fill="#44b442"/>
<circle cx="196.9" cy="598.8" r="1.6" fill="#44b442"/>
<circle cx="207.1" cy="610.1" r="1.6" fill="#44b442"/>
<circle cx="200.5" cy="602.6" r="1.6" fill="#44b442"/>
<circle cx="195.4" cy="578.6" r="1.6" fill="#44b442"/>
<circle cx="205.6" cy="602.2" r="1.6" fill="#44b442"/>
<circle cx="198.3" cy="586.0" r="1.6" fill="#44b442"/>
<circle cx="193.5" cy="580.6" r="1.6" fill="#44b442"/>
<circle cx="194.1" cy="588.7" r="1.6" fill="#44b442"/>
<circle cx="201.5" cy="600.9" r="1.6" fill="#44b442"/>
<circle cx="206.9" cy="596.4" r="1.6" fill="#44b442"/>
<circle cx="197.0" cy="583.2" r="1.6" fill="#44b442"/>
<circle cx="204.7" cy="600.3" r="1.6" fill="#44b442"/>
<circle cx="192.6" cy="587.8" r="1.6" fill="#44b442"/>
<circle cx="193.1" cy="582.2" r="1.6" fill="#44b442"/>
<circle cx="205.7" cy="604.5" r="1.6" fill="#44b442"/>
<circle cx="192.2" cy="576.1" r="1.6" fill="#44b442"/>
<circle cx="194.5" cy="583.2" r="1.6" fill="#44b442"/>
<circle cx="196.5" cy="577.5" r="1.6" fill="#44b442"/>
<circle cx="191.0" cy="578.2" r="1.6" fill="#44b442"/>
<circle cx="198.2" cy="602.4" r="1.6" fill="#44b442"/>
<circle cx="198.4" cy="600.3" r="1.6" fill="#44b442"/>
<circle cx="202.5" cy="600.6" r="1.6" fill="#44b442"/>
<circle cx="206.2" cy="606.0" r="1.6" fill="#44b442"/>
<circle cx="207.4" cy="598.6" r="1.6" fill="#44b442"/>
<circle cx="196.1" cy="595.6" r="1.6" fill="#44b442"/>
<circle cx="207.6" cy="599.2" r="1.6" fill="#44b442"/>
<circle cx="198.8" cy="588.5" r="1.6" fill="#44b442"/>
<circle cx="205.0" cy="608.1" r="1.6" fill="#44b442"/>
<circle cx="201.7" cy="599.3" r="1.6" fill="#44b442"/>
<circle cx="201.0" cy="596.1" r="1.6" fill="#44b442"/>
<circle cx="198.1" cy="601.2" r="1.6" fill="#44b442"/>
<circle cx="195.1" cy="586.2" r="1.6" fill="#44b442"/>
<circle cx="198.7" cy="598.5" r="1.6" fill="#44b442"/>
<circle cx="197.1" cy="580.7" r="1.6" fill="#44b442"/>
<circle cx="199.9" cy="592.9" r="1.6" fill="#44b442"/>
<circle cx="197.1" cy="596.1" r="1.6" fill="#44b442"/>
<circle cx="208.5" cy="603.4" r="1.6" fill="#44b442"/>
<circle cx="197.7" cy="580.2" r="1.6" fill="#44b442"/>
<circle cx="195.3" cy="579.8" r="1.6" fill="#44b442"/>
<circle cx="195.8" cy="589.5" r="1.6" fill="#44b442"/>
<circle cx="198.9" cy="596.0" r="1.6" fill="#44b442"/>
<circle cx="211.2" cy="605.0" r="1.6" fill="#44b442"/>
<circle cx="190.9" cy="575.6" r="1.6" fill="#44b442"/>
<circle cx="203.4" cy="602.0" r="1.6" fill="#44b442"/>
<circle cx="204.8" cy="606.6" r="1.6" fill="#44b442"/>
<circle cx="207.8" cy="604.3" r="1.6" fill="#44b442"/>
<circle cx="201.5" cy="600.3" r="1.6" fill="#44b442"/>
<circle cx="199.2" cy="606.2" r="1.6" fill="#44b442"/>
<circle cx="194.2" cy="575.5" r="1.6" fill="#44b442"/>
<circle cx="200.5" cy="590.3" r="1.6" fill="#44b442"/>
<circle cx="201.7" cy="605.3" r="1.6" fill="#44b442"/>
<circle cx="199.9" cy="592.9" r="1.6" fill="#44b442"/>
<circle cx="204.8" cy="604.4" r="1.6" fill="#44b442"/>
<circle cx="197.6" cy="587.0" r="1.6" fill="#44b442"/>
<circle cx="204.1" cy="596.0" r="1.6" fill="#44b442"/>
<circle cx="205.2" cy="608.2" r="1.6" fill="#44b442"/>
<circle cx="201.0" cy="589.7" r="1.6" fill="#44b442"/>
<circle cx="206.1" cy="595.5" r="1.6" fill="#44b442"/>
<circle cx="197.4" cy="589.3" r="1.6" fill="#44b442"/>
<circle cx="201.3" cy="601.5" r="1.6" fill="#44b442"/>
<circle cx="193.6" cy="587.7" r="1.6" fill="#44b442"/>
<circle cx="198.8" cy="592.6" r="1.6" fill="#44b442"/>
<circle cx="204.5" cy="602.4" r="1.6" fill="#44b442"/>
<circle cx="196.5" cy="582.8" r="1.6" fill="#44b442"/>
<circle cx="195.8" cy="593.9" r="1.6" fill="#44b442"/>
<circle cx="204.0" cy="602.1" r="1.6" fill="#44b442"/>
<circle cx="204.6" cy="602.3" r="1.6" fill="#44b442"/>
<circle cx="203.6" cy="595.6" r="1.6" fill="#44b442"/>
<circle cx="205.5" cy="594.3" r="1.6" fill="#44b442"/>
<circle cx="192.9" cy="571.2" r="1.6" fill="#44b442"/>
<circle cx="207.5" cy="607.5" r="1.6" fill="#44b442"/>
<circle cx="208.6" cy="602.2" r="1.6" fill="#44b442"/>
<circle cx="195.8" cy="587.1" r="1.6" fill="#44b442"/>
<circle cx="196.2" cy="587.5" r="1.6" fill="#44b442"/>
<circle cx="204.2" cy="608.3" r="1.6" fill="#44b442"/>
<circle cx="189.4" cy="574.6" r="1.6" fill="#44b442"/>
<circle cx="203.0" cy="608.4" r="1.6" fill="#44b442"/>
<circle cx="192.1" cy="570.3" r="1.6" fill="#44b442"/>
<path d="M214,607.6 Q224.2,621.5 235.3,607.6" fill="none" stroke="#111" stroke-width="3.6" stroke-linecap="round"/><path d="M210.8,611 L215,610.5 M234,611 L239.3,610.7" fill="none" stroke="#111" stroke-width="2.6" stroke-linecap="round"/>
<circle cx="274.2" cy="608.4" r="1.5" fill="#eb3228"/>
<circle cx="278.8" cy="605.9" r="1.5" fill="#eb3228"/>
<circle cx="283.3" cy="602.7" r="1.5" fill="#eb3228"/>
<circle cx="286.9" cy="599.5" r="1.5" fill="#eb3228"/>
<circle cx="290.7" cy="597.1" r="1.5" fill="#eb3228"/>
<circle cx="292.5" cy="598.4" r="1.5" fill="#eb3228"/>
<circle cx="291.5" cy="597.5" r="1.5" fill="#eb3228"/>
<circle cx="297.1" cy="591.9" r="1.5" fill="#eb3228"/>
<circle cx="298.0" cy="590.7" r="1.5" fill="#eb3228"/>
<circle cx="298.5" cy="589.9" r="1.5" fill="#eb3228"/>
<circle cx="299.8" cy="588.7" r="1.5" fill="#eb3228"/>
<circle cx="300.7" cy="587.1" r="1.5" fill="#eb3228"/>
<circle cx="301.6" cy="586.2" r="1.5" fill="#eb3228"/>
<circle cx="302.4" cy="585.2" r="1.5" fill="#eb3228"/>
<circle cx="303.2" cy="583.9" r="1.5" fill="#eb3228"/>
<circle cx="304.3" cy="582.1" r="1.5" fill="#eb3228"/>
<circle cx="304.8" cy="581.2" r="1.5" fill="#eb3228"/>
<circle cx="306.2" cy="579.6" r="1.5" fill="#eb3228"/>
<circle cx="306.8" cy="578.7" r="1.5" fill="#eb3228"/>
<circle cx="307.3" cy="577.7" r="1.5" fill="#eb3228"/>
<circle cx="308.1" cy="576.0" r="1.5" fill="#eb3228"/>
<circle cx="308.7" cy="575.2" r="1.5" fill="#eb3228"/>
<circle cx="309.4" cy="574.1" r="1.5" fill="#eb3228"/>
<circle cx="309.8" cy="573.0" r="1.5" fill="#eb3228"/>
<circle cx="310.6" cy="571.7" r="1.5" fill="#eb3228"/>
<circle cx="311.4" cy="570.5" r="1.5" fill="#eb3228"/>
<circle cx="311.9" cy="569.4" r="1.5" fill="#eb3228"/>
<circle cx="312.9" cy="568.1" r="1.5" fill="#eb3228"/>
<circle cx="313.3" cy="566.5" r="1.5" fill="#eb3228"/>
<circle cx="313.6" cy="565.6" r="1.5" fill="#eb3228"/>
<circle cx="314.6" cy="564.3" r="1.5" fill="#eb3228"/>
<circle cx="315.1" cy="562.8" r="1.5" fill="#eb3228"/>
<circle cx="316.1" cy="561.7" r="1.5" fill="#eb3228"/>
<circle cx="316.4" cy="560.0" r="1.5" fill="#eb3228"/>
<circle cx="316.9" cy="559.0" r="1.5" fill="#eb3228"/>
<circle cx="317.4" cy="557.6" r="1.5" fill="#eb3228"/>
<circle cx="318.1" cy="556.3" r="1.5" fill="#eb3228"/>
<circle cx="318.8" cy="554.6" r="1.5" fill="#eb3228"/>
<circle cx="318.9" cy="553.3" r="1.5" fill="#eb3228"/>
<circle cx="319.7" cy="552.1" r="1.5" fill="#eb3228"/>
<circle cx="320.5" cy="550.9" r="1.5" fill="#eb3228"/>
<circle cx="320.6" cy="549.6" r="1.5" fill="#eb3228"/>
<circle cx="321.6" cy="548.2" r="1.5" fill="#eb3228"/>
<circle cx="322.0" cy="546.6" r="1.5" fill="#eb3228"/>
<circle cx="322.8" cy="545.5" r="1.5" fill="#eb3228"/>
<circle cx="323.2" cy="544.3" r="1.5" fill="#eb3228"/>
<circle cx="323.6" cy="542.4" r="1.5" fill="#eb3228"/>
<circle cx="324.3" cy="541.5" r="1.5" fill="#eb3228"/>
<circle cx="324.8" cy="540.0" r="1.5" fill="#eb3228"/>
<circle cx="327.2" cy="534.6" r="1.5" fill="#eb3228"/>
<circle cx="331.1" cy="528.9" r="1.5" fill="#eb3228"/>
<circle cx="340.6" cy="503.4" r="1.5" fill="#eb3228"/>
<circle cx="296.5" cy="518.3" r="1.5" fill="#eb3228"/>
<circle cx="274.6" cy="524.6" r="1.5" fill="#eb3228"/>
<circle cx="275.2" cy="538.8" r="1.5" fill="#eb3228"/>
<circle cx="274.2" cy="547.3" r="1.5" fill="#eb3228"/>
<circle cx="267.3" cy="549.3" r="1.5" fill="#eb3228"/>
<circle cx="266.3" cy="553.2" r="1.5" fill="#eb3228"/>
<circle cx="269.2" cy="557.2" r="1.5" fill="#eb3228"/>
<circle cx="260.3" cy="564.1" r="1.5" fill="#eb3228"/>
<circle cx="264.3" cy="564.1" r="1.5" fill="#eb3228"/>
<circle cx="273.2" cy="564.1" r="1.5" fill="#eb3228"/>
<circle cx="278.1" cy="565.1" r="1.5" fill="#eb3228"/>
<circle cx="266.3" cy="570.0" r="1.5" fill="#eb3228"/>
<circle cx="257.4" cy="571.0" r="1.5" fill="#eb3228"/>
<circle cx="254.4" cy="575.0" r="1.5" fill="#eb3228"/>
<circle cx="262.3" cy="575.0" r="1.5" fill="#eb3228"/>
<circle cx="270.2" cy="577.9" r="1.5" fill="#eb3228"/>
<circle cx="252.4" cy="580.9" r="1.5" fill="#eb3228"/>
<circle cx="264.3" cy="580.9" r="1.5" fill="#eb3228"/>
<circle cx="267.3" cy="582.9" r="1.5" fill="#eb3228"/>
<circle cx="250.5" cy="584.9" r="1.5" fill="#eb3228"/>
<circle cx="258.4" cy="586.8" r="1.5" fill="#eb3228"/>
<circle cx="262.3" cy="588.8" r="1.5" fill="#eb3228"/>
<circle cx="248.5" cy="590.8" r="1.5" fill="#eb3228"/>
<circle cx="254.4" cy="592.8" r="1.5" fill="#eb3228"/>
<circle cx="258.4" cy="596.7" r="1.5" fill="#eb3228"/>
<circle cx="244.5" cy="596.7" r="1.5" fill="#eb3228"/>
<circle cx="250.5" cy="600.7" r="1.5" fill="#eb3228"/>
<circle cx="240.6" cy="602.6" r="1.5" fill="#eb3228"/>
<circle cx="240.2" cy="605.9" r="1.55" fill="#eb3228"/>
<circle cx="245.7" cy="598.0" r="1.55" fill="#eb3228"/>
<circle cx="241.3" cy="605.9" r="1.55" fill="#eb3228"/>
<circle cx="237.8" cy="606.7" r="1.55" fill="#eb3228"/>
<circle cx="252.1" cy="598.4" r="1.55" fill="#eb3228"/>
<circle cx="246.0" cy="603.5" r="1.55" fill="#eb3228"/>
<circle cx="239.8" cy="605.2" r="1.55" fill="#eb3228"/>
<circle cx="243.6" cy="603.2" r="1.55" fill="#eb3228"/>
<circle cx="244.4" cy="602.5" r="1.55" fill="#eb3228"/>
<circle cx="252.5" cy="597.3" r="1.55" fill="#eb3228"/>
<circle cx="248.5" cy="600.0" r="1.55" fill="#eb3228"/>
<circle cx="246.9" cy="595.3" r="1.55" fill="#eb3228"/>
<circle cx="247.9" cy="598.8" r="1.55" fill="#eb3228"/>
<circle cx="245.6" cy="608.7" r="1.55" fill="#eb3228"/>
<circle cx="255.0" cy="595.9" r="1.55" fill="#eb3228"/>
<circle cx="248.5" cy="600.8" r="1.55" fill="#eb3228"/>
<circle cx="238.5" cy="608.9" r="1.55" fill="#eb3228"/>
<circle cx="241.4" cy="603.2" r="1.55" fill="#eb3228"/>
<circle cx="250.0" cy="600.7" r="1.55" fill="#eb3228"/>
<circle cx="245.4" cy="597.3" r="1.55" fill="#eb3228"/>
<circle cx="241.3" cy="600.1" r="1.55" fill="#eb3228"/>
<circle cx="253.5" cy="595.7" r="1.55" fill="#eb3228"/>
<circle cx="250.1" cy="599.3" r="1.55" fill="#eb3228"/>
<circle cx="246.1" cy="597.4" r="1.55" fill="#eb3228"/>
<circle cx="251.0" cy="597.8" r="1.55" fill="#eb3228"/>
<circle cx="236.8" cy="608.5" r="1.55" fill="#eb3228"/>
<circle cx="240.6" cy="608.5" r="1.55" fill="#eb3228"/>
<circle cx="238.0" cy="608.5" r="1.55" fill="#eb3228"/>
<circle cx="245.5" cy="599.9" r="1.55" fill="#eb3228"/>
<circle cx="249.1" cy="597.1" r="1.55" fill="#eb3228"/>
<circle cx="239.0" cy="607.6" r="1.55" fill="#eb3228"/>
<circle cx="241.6" cy="601.0" r="1.55" fill="#eb3228"/>
<circle cx="242.6" cy="608.1" r="1.55" fill="#eb3228"/>
<circle cx="237.2" cy="608.0" r="1.55" fill="#eb3228"/>
<circle cx="250.0" cy="598.1" r="1.55" fill="#eb3228"/>
<circle cx="246.0" cy="599.2" r="1.55" fill="#eb3228"/>
<circle cx="243.6" cy="609.4" r="1.55" fill="#eb3228"/>
<circle cx="254.7" cy="595.8" r="1.55" fill="#eb3228"/>
<circle cx="251.2" cy="599.3" r="1.55" fill="#eb3228"/>
<circle cx="252.9" cy="599.9" r="1.55" fill="#eb3228"/>
<circle cx="247.9" cy="597.0" r="1.55" fill="#eb3228"/>
<circle cx="239.8" cy="606.2" r="1.55" fill="#eb3228"/>
<circle cx="250.9" cy="597.9" r="1.55" fill="#eb3228"/>
<circle cx="248.7" cy="602.2" r="1.55" fill="#eb3228"/>
<circle cx="251.3" cy="600.9" r="1.55" fill="#eb3228"/>
<circle cx="251.1" cy="595.8" r="1.55" fill="#eb3228"/>
<circle cx="252.9" cy="599.9" r="1.55" fill="#eb3228"/>
<circle cx="246.3" cy="595.2" r="1.55" fill="#eb3228"/>
<circle cx="239.9" cy="607.1" r="1.55" fill="#eb3228"/>
<circle cx="243.7" cy="597.4" r="1.55" fill="#eb3228"/>
<circle cx="243.8" cy="603.6" r="1.55" fill="#eb3228"/>
<circle cx="245.3" cy="602.5" r="1.55" fill="#eb3228"/>
<circle cx="238.5" cy="605.4" r="1.55" fill="#eb3228"/>
<circle cx="242.7" cy="605.3" r="1.55" fill="#eb3228"/>
<circle cx="244.0" cy="605.9" r="1.55" fill="#eb3228"/>
<circle cx="237.3" cy="607.7" r="1.55" fill="#eb3228"/>
<circle cx="246.7" cy="602.7" r="1.55" fill="#eb3228"/>
<circle cx="247.2" cy="595.3" r="1.55" fill="#eb3228"/>
<circle cx="241.2" cy="606.8" r="1.55" fill="#eb3228"/>
<circle cx="250.6" cy="597.8" r="1.55" fill="#eb3228"/>
<circle cx="248.0" cy="602.6" r="1.55" fill="#eb3228"/>
<circle cx="250.7" cy="596.5" r="1.55" fill="#eb3228"/>
<circle cx="246.3" cy="602.3" r="1.55" fill="#eb3228"/>
<circle cx="244.5" cy="597.0" r="1.55" fill="#eb3228"/>
<circle cx="251.6" cy="597.4" r="1.55" fill="#eb3228"/>
<circle cx="244.1" cy="601.1" r="1.55" fill="#eb3228"/>
<circle cx="244.3" cy="608.6" r="1.55" fill="#eb3228"/>
<circle cx="252.2" cy="599.9" r="1.55" fill="#eb3228"/>
<circle cx="245.1" cy="609.2" r="1.55" fill="#eb3228"/>
<circle cx="241.2" cy="601.1" r="1.55" fill="#eb3228"/>
<circle cx="260.7" cy="575.0" r="1.5" fill="#eb3228"/>
<circle cx="255.4" cy="579.6" r="1.5" fill="#eb3228"/>
<circle cx="260.9" cy="571.7" r="1.5" fill="#eb3228"/>
<circle cx="261.9" cy="572.0" r="1.5" fill="#eb3228"/>
<circle cx="258.3" cy="593.3" r="1.5" fill="#eb3228"/>
<circle cx="260.4" cy="571.2" r="1.5" fill="#eb3228"/>
<circle cx="257.7" cy="577.2" r="1.5" fill="#eb3228"/>
<circle cx="252.1" cy="584.2" r="1.5" fill="#eb3228"/>
<circle cx="258.1" cy="567.9" r="1.5" fill="#eb3228"/>
<circle cx="266.2" cy="583.0" r="1.5" fill="#eb3228"/>
<circle cx="259.1" cy="584.3" r="1.5" fill="#eb3228"/>
<circle cx="249.3" cy="586.3" r="1.5" fill="#eb3228"/>
<circle cx="256.2" cy="581.0" r="1.5" fill="#eb3228"/>
<circle cx="260.2" cy="578.4" r="1.5" fill="#eb3228"/>
<circle cx="254.1" cy="582.2" r="1.5" fill="#eb3228"/>
<circle cx="266.8" cy="570.8" r="1.5" fill="#eb3228"/>
<circle cx="258.7" cy="579.1" r="1.5" fill="#eb3228"/>
<circle cx="251.5" cy="595.4" r="1.5" fill="#eb3228"/>
<circle cx="251.8" cy="588.3" r="1.5" fill="#eb3228"/>
<circle cx="267.0" cy="577.4" r="1.5" fill="#eb3228"/>
<circle cx="255.6" cy="587.1" r="1.5" fill="#eb3228"/>
<circle cx="253.3" cy="585.2" r="1.5" fill="#eb3228"/>
<circle cx="260.3" cy="590.9" r="1.5" fill="#eb3228"/>
<circle cx="265.7" cy="580.0" r="1.5" fill="#eb3228"/>
<circle cx="263.5" cy="587.4" r="1.5" fill="#eb3228"/>
<circle cx="264.1" cy="578.6" r="1.5" fill="#eb3228"/>
<circle cx="264.2" cy="582.2" r="1.5" fill="#eb3228"/>
<circle cx="257.1" cy="594.6" r="1.5" fill="#eb3228"/>
<circle cx="259.1" cy="576.7" r="1.5" fill="#eb3228"/>
<circle cx="260.0" cy="575.4" r="1.5" fill="#eb3228"/>
<circle cx="255.9" cy="578.0" r="1.5" fill="#eb3228"/>
<circle cx="263.1" cy="572.6" r="1.5" fill="#eb3228"/>
<circle cx="254.3" cy="581.2" r="1.5" fill="#eb3228"/>
<circle cx="257.2" cy="577.6" r="1.5" fill="#eb3228"/>
<circle cx="259.4" cy="565.9" r="1.5" fill="#eb3228"/>
<circle cx="268.3" cy="573.6" r="1.5" fill="#eb3228"/>
<circle cx="255.3" cy="592.9" r="1.5" fill="#eb3228"/>
<circle cx="258.9" cy="579.3" r="1.5" fill="#eb3228"/>
<circle cx="257.7" cy="580.0" r="1.5" fill="#eb3228"/>
<circle cx="262.1" cy="575.8" r="1.5" fill="#eb3228"/>
<circle cx="253.4" cy="582.5" r="1.5" fill="#eb3228"/>
<circle cx="253.3" cy="594.1" r="1.5" fill="#eb3228"/>
<circle cx="261.9" cy="580.2" r="1.5" fill="#eb3228"/>
<circle cx="254.6" cy="581.4" r="1.5" fill="#eb3228"/>
<circle cx="259.2" cy="591.9" r="1.5" fill="#eb3228"/>
<circle cx="269.5" cy="579.0" r="1.5" fill="#eb3228"/>
<circle cx="255.6" cy="583.5" r="1.5" fill="#eb3228"/>
<circle cx="258.0" cy="589.8" r="1.5" fill="#eb3228"/>
<circle cx="267.4" cy="576.8" r="1.5" fill="#eb3228"/>
<circle cx="257.5" cy="579.6" r="1.5" fill="#eb3228"/>
<circle cx="260.6" cy="582.8" r="1.5" fill="#eb3228"/>
<circle cx="260.8" cy="564.4" r="1.5" fill="#eb3228"/>
<circle cx="254.9" cy="588.8" r="1.5" fill="#eb3228"/>
<circle cx="252.1" cy="585.7" r="1.5" fill="#eb3228"/>
<circle cx="266.2" cy="582.2" r="1.5" fill="#eb3228"/>
<circle cx="261.6" cy="569.5" r="1.5" fill="#eb3228"/>
<circle cx="257.1" cy="581.1" r="1.5" fill="#eb3228"/>
<circle cx="251.0" cy="584.2" r="1.5" fill="#eb3228"/>
<circle cx="259.2" cy="576.5" r="1.5" fill="#eb3228"/>
<circle cx="264.1" cy="566.5" r="1.5" fill="#eb3228"/>
<circle cx="257.8" cy="590.0" r="1.5" fill="#eb3228"/>
<circle cx="260.2" cy="589.5" r="1.5" fill="#eb3228"/>
<circle cx="264.3" cy="573.6" r="1.5" fill="#eb3228"/>
<circle cx="262.9" cy="574.6" r="1.5" fill="#eb3228"/>
<circle cx="246.6" cy="592.6" r="1.5" fill="#eb3228"/>
<circle cx="259.4" cy="574.4" r="1.5" fill="#eb3228"/>
<circle cx="255.9" cy="575.6" r="1.5" fill="#eb3228"/>
<circle cx="255.6" cy="583.3" r="1.5" fill="#eb3228"/>
<circle cx="252.3" cy="592.5" r="1.5" fill="#eb3228"/>
<circle cx="265.5" cy="573.0" r="1.5" fill="#eb3228"/>
<circle cx="266.2" cy="553.3" r="1.5" fill="#eb3228"/>
<circle cx="260.0" cy="568.9" r="1.5" fill="#eb3228"/>
<circle cx="262.7" cy="566.9" r="1.5" fill="#eb3228"/>
<circle cx="270.0" cy="554.9" r="1.5" fill="#eb3228"/>
<circle cx="263.4" cy="557.2" r="1.5" fill="#eb3228"/>
<circle cx="265.4" cy="556.2" r="1.5" fill="#eb3228"/>
<circle cx="267.9" cy="551.1" r="1.5" fill="#eb3228"/>
<circle cx="262.0" cy="568.0" r="1.5" fill="#eb3228"/>
<circle cx="267.5" cy="551.8" r="1.5" fill="#eb3228"/>
<circle cx="260.7" cy="565.3" r="1.5" fill="#eb3228"/>
<circle cx="258.5" cy="570.7" r="1.5" fill="#eb3228"/>
<circle cx="266.0" cy="554.2" r="1.5" fill="#eb3228"/>
<circle cx="268.9" cy="562.0" r="1.5" fill="#eb3228"/>
<circle cx="264.5" cy="553.1" r="1.5" fill="#eb3228"/>
<circle cx="268.5" cy="550.9" r="1.5" fill="#eb3228"/>
<circle cx="263.1" cy="561.0" r="1.5" fill="#eb3228"/>
<circle cx="259.5" cy="566.4" r="1.5" fill="#eb3228"/>
<circle cx="261.2" cy="563.7" r="1.5" fill="#eb3228"/>
<circle cx="263.9" cy="555.4" r="1.5" fill="#eb3228"/>
<circle cx="258.1" cy="568.3" r="1.5" fill="#eb3228"/>
<rect x="57.5" y="367.5" width="294.5" height="257.0" fill="none" stroke="#161616" stroke-width="1.3"/>
<line x1="58.75" y1="624.5" x2="58.75" y2="629.5" stroke="#161616" stroke-width="1"/>
<text x="60.5" y="644.6" font-family="Liberation Serif" font-size="17" text-anchor="middle" fill="#222" >-15</text>
<line x1="114.10000000000001" y1="624.5" x2="114.10000000000001" y2="629.5" stroke="#161616" stroke-width="1"/>
<text x="120.4" y="644.6" font-family="Liberation Serif" font-size="17" text-anchor="middle" fill="#222" >-10</text>
<line x1="169.45000000000002" y1="624.5" x2="169.45000000000002" y2="629.5" stroke="#161616" stroke-width="1"/>
<text x="172.9" y="644.6" font-family="Liberation Serif" font-size="17" text-anchor="middle" fill="#222" >-5</text>
<line x1="224.8" y1="624.5" x2="224.8" y2="629.5" stroke="#161616" stroke-width="1"/>
<text x="225.5" y="644.6" font-family="Liberation Serif" font-size="17" text-anchor="middle" fill="#222" >0</text>
<line x1="280.15000000000003" y1="624.5" x2="280.15000000000003" y2="629.5" stroke="#161616" stroke-width="1"/>
<text x="279.5" y="644.6" font-family="Liberation Serif" font-size="17" text-anchor="middle" fill="#222" >5</text>
<line x1="335.5" y1="624.5" x2="335.5" y2="629.5" stroke="#161616" stroke-width="1"/>
<text x="333" y="644.6" font-family="Liberation Serif" font-size="17" text-anchor="middle" fill="#222" >10</text>
<line x1="52.5" y1="614.75" x2="57.5" y2="614.75" stroke="#161616" stroke-width="1"/>
<text x="48.5" y="619.55" font-family="Liberation Serif" font-size="17" text-anchor="end" fill="#222" >0</text>
<line x1="52.5" y1="577.25" x2="57.5" y2="577.25" stroke="#161616" stroke-width="1"/>
<line x1="52.5" y1="539.75" x2="57.5" y2="539.75" stroke="#161616" stroke-width="1"/>
<text x="48.5" y="544.55" font-family="Liberation Serif" font-size="17" text-anchor="end" fill="#222" >20</text>
<line x1="52.5" y1="502.25" x2="57.5" y2="502.25" stroke="#161616" stroke-width="1"/>
<line x1="52.5" y1="464.75" x2="57.5" y2="464.75" stroke="#161616" stroke-width="1"/>
<text x="48.5" y="469.55" font-family="Liberation Serif" font-size="17" text-anchor="end" fill="#222" >40</text>
<line x1="52.5" y1="427.25" x2="57.5" y2="427.25" stroke="#161616" stroke-width="1"/>
<line x1="52.5" y1="389.75" x2="57.5" y2="389.75" stroke="#161616" stroke-width="1"/>
<text x="48.5" y="394.55" font-family="Liberation Serif" font-size="17" text-anchor="end" fill="#222" >60</text>
<text x="205.2" y="664.3" font-family="Liberation Serif" font-size="16.85" text-anchor="middle" fill="#222" >Log2 fold change</text>
<text transform="translate(24.8,490.7) rotate(-90)" font-family="Liberation Serif" font-size="17.4" text-anchor="middle" fill="#222">-1*log10(FDR)</text>
<line x1="583.5" y1="24" x2="583.5" y2="306" stroke="#e4e7ed" stroke-width="1"/>
<line x1="605.5" y1="24" x2="605.5" y2="306" stroke="#e4e7ed" stroke-width="1"/>
<line x1="626.5" y1="24" x2="626.5" y2="306" stroke="#e4e7ed" stroke-width="1"/>
<line x1="648.5" y1="24" x2="648.5" y2="306" stroke="#e4e7ed" stroke-width="1"/>
<line x1="670.5" y1="24" x2="670.5" y2="306" stroke="#e4e7ed" stroke-width="1"/>
<line x1="594.5" y1="24" x2="594.5" y2="306" stroke="#d0d4de" stroke-width="1"/>
<line x1="616.5" y1="24" x2="616.5" y2="306" stroke="#d0d4de" stroke-width="1"/>
<line x1="637.5" y1="24" x2="637.5" y2="306" stroke="#d0d4de" stroke-width="1"/>
<line x1="659.5" y1="24" x2="659.5" y2="306" stroke="#d0d4de" stroke-width="1"/>
<line x1="572" y1="38.5" x2="677" y2="38.5" stroke="#d0d4de" stroke-width="1"/>
<line x1="572" y1="61.5" x2="677" y2="61.5" stroke="#d0d4de" stroke-width="1"/>
<line x1="572" y1="84.5" x2="677" y2="84.5" stroke="#d0d4de" stroke-width="1"/>
<line x1="572" y1="107.5" x2="677" y2="107.5" stroke="#d0d4de" stroke-width="1"/>
<line x1="572" y1="130.5" x2="677" y2="130.5" stroke="#d0d4de" stroke-width="1"/>
<line x1="572" y1="153.5" x2="677" y2="153.5" stroke="#d0d4de" stroke-width="1"/>
<line x1="572" y1="176.5" x2="677" y2="176.5" stroke="#d0d4de" stroke-width="1"/>
<line x1="572" y1="200.5" x2="677" y2="200.5" stroke="#d0d4de" stroke-width="1"/>
<line x1="572" y1="223.5" x2="677" y2="223.5" stroke="#d0d4de" stroke-width="1"/>
<line x1="572" y1="246.5" x2="677" y2="246.5" stroke="#d0d4de" stroke-width="1"/>
<line x1="572" y1="269.5" x2="677" y2="269.5" stroke="#d0d4de" stroke-width="1"/>
<line x1="572" y1="292.5" x2="677" y2="292.5" stroke="#d0d4de" stroke-width="1"/>
<rect x="572.5" y="24.5" width="104" height="281" fill="none" stroke="#acafb6" stroke-width="1"/>
<line x1="569.5" y1="38.5" x2="572" y2="38.5" stroke="#444444" stroke-width="1"/>
<line x1="569.5" y1="61.5" x2="572" y2="61.5" stroke="#444444" stroke-width="1"/>
<line x1="569.5" y1="84.5" x2="572" y2="84.5" stroke="#444444" stroke-width="1"/>
<line x1="569.5" y1="107.5" x2="572" y2="107.5" stroke="#444444" stroke-width="1"/>
<line x1="569.5" y1="130.5" x2="572" y2="130.5" stroke="#444444" stroke-width="1"/>
<line x1="569.5" y1="153.5" x2="572" y2="153.5" stroke="#444444" stroke-width="1"/>
<line x1="569.5" y1="176.5" x2="572" y2="176.5" stroke="#444444" stroke-width="1"/>
<line x1="569.5" y1="200.5" x2="572" y2="200.5" stroke="#444444" stroke-width="1"/>
<line x1="569.5" y1="223.5" x2="572" y2="223.5" stroke="#444444" stroke-width="1"/>
<line x1="569.5" y1="246.5" x2="572" y2="246.5" stroke="#444444" stroke-width="1"/>
<line x1="569.5" y1="269.5" x2="572" y2="269.5" stroke="#444444" stroke-width="1"/>
<line x1="569.5" y1="292.5" x2="572" y2="292.5" stroke="#444444" stroke-width="1"/>
<line x1="594.5" y1="306" x2="594.5" y2="308" stroke="#444444" stroke-width="1"/>
<line x1="616.5" y1="306" x2="616.5" y2="308" stroke="#444444" stroke-width="1"/>
<line x1="637.5" y1="306" x2="637.5" y2="308" stroke="#444444" stroke-width="1"/>
<line x1="659.5" y1="306" x2="659.5" y2="308" stroke="#444444" stroke-width="1"/>
<line x1="572.5" y1="306" x2="572.5" y2="308" stroke="#444444" stroke-width="1"/>
<text x="573.3" y="319.6" font-family="Liberation Serif" font-size="13.5" text-anchor="middle" fill="#222" >2</text>
<text x="594.5" y="319.6" font-family="Liberation Serif" font-size="13.5" text-anchor="middle" fill="#222" >3</text>
<text x="616.3" y="319.6" font-family="Liberation Serif" font-size="13.5" text-anchor="middle" fill="#222" >4</text>
<text x="637.9" y="319.6" font-family="Liberation Serif" font-size="13.5" text-anchor="middle" fill="#222" >5</text>
<text x="659.4" y="319.6" font-family="Liberation Serif" font-size="13.5" text-anchor="middle" fill="#222" >6</text>
<text x="625.7" y="333.5" font-family="Liberation Serif" font-size="13.5" text-anchor="middle" fill="#222" >RichFactor</text>
<text x="571.8" y="36.3" font-family="Liberation Serif" font-size="13.5" text-anchor="end" fill="#222" >Stilbenoid, diarylheptanoid and</text>
<text x="571.8" y="46.0" font-family="Liberation Serif" font-size="13.5" text-anchor="end" fill="#222" >gingerol biosynthesis</text>
<text x="571.8" y="64.9" font-family="Liberation Serif" font-size="13.5" text-anchor="end" fill="#222" >Spliceosome</text>
<text x="571.8" y="86.1" font-family="Liberation Serif" font-size="13.5" text-anchor="end" fill="#222" >Ras signaling pathway</text>
<text x="571.8" y="105.3" font-family="Liberation Serif" font-size="13.5" text-anchor="end" fill="#222" >Protein processing in</text>
<text x="571.8" y="115.0" font-family="Liberation Serif" font-size="13.5" text-anchor="end" fill="#222" >endoplasmic reticulum</text>
<text x="571.8" y="133.0" font-family="Liberation Serif" font-size="13.5" text-anchor="end" fill="#222" >Plant hormone signal transduction</text>
<text x="571.8" y="155.8" font-family="Liberation Serif" font-size="13.5" text-anchor="end" fill="#222" >MAPK signaling pathway</text>
<text x="571.8" y="174.3" font-family="Liberation Serif" font-size="13.5" text-anchor="end" fill="#222" >Longevity regulating pathway</text>
<text x="571.8" y="184.0" font-family="Liberation Serif" font-size="13.5" text-anchor="end" fill="#222" >− multiple species</text>
<text x="571.8" y="202.3" font-family="Liberation Serif" font-size="13.5" text-anchor="end" fill="#222" >Flavonoid biosynthesis</text>
<text x="571.8" y="225.4" font-family="Liberation Serif" font-size="13.5" text-anchor="end" fill="#222" >Endocytosis</text>
<text x="571.8" y="249.9" font-family="Liberation Serif" font-size="13.5" text-anchor="end" fill="#222" >Brassinosteroid biosynthesis</text>
<text x="571.8" y="271.8" font-family="Liberation Serif" font-size="13.5" text-anchor="end" fill="#222" >Apoptosis</text>
<text x="571.8" y="294.4" font-family="Liberation Serif" font-size="13.5" text-anchor="end" fill="#222" >Antigen processing and presentation</text>
<circle cx="583.0" cy="38.5" r="2.1" fill="#2a3aa8"/>
<circle cx="596.2" cy="61.5" r="2.9" fill="#e8302c"/>
<circle cx="659.6" cy="84.5" r="4.2" fill="#e8302c"/>
<circle cx="592.0" cy="107.5" r="2.9" fill="#e8302c"/>
<circle cx="577.3" cy="130.5" r="2.5" fill="#e8302c"/>
<circle cx="602.5" cy="153.5" r="2.4" fill="#e8302c"/>
<circle cx="626.0" cy="176.5" r="2.7" fill="#e8302c"/>
<circle cx="605.8" cy="200.5" r="2.4" fill="#e8302c"/>
<circle cx="582.1" cy="223.5" r="3.0" fill="#e8302c"/>
<circle cx="671.5" cy="246.5" r="1.1" fill="#e8302c"/>
<circle cx="599.8" cy="269.5" r="2.2" fill="#e8302c"/>
<circle cx="626.0" cy="292.5" r="2.7" fill="#e8302c"/>
<defs><linearGradient id="gB" x1="0" y1="0" x2="0" y2="1"><stop offset="0" stop-color="#3a3a9c"/><stop offset="0.16" stop-color="#9470b6"/><stop offset="0.31" stop-color="#d4a694"/><stop offset="0.49" stop-color="#f8e61e"/><stop offset="0.68" stop-color="#f4b818"/><stop offset="0.84" stop-color="#f07a28"/><stop offset="1" stop-color="#e84a2a"/></linearGradient><linearGradient id="gD" x1="0" y1="0" x2="0" y2="1"><stop offset="0" stop-color="#3a3a9c"/><stop offset="0.18" stop-color="#9a70b8"/><stop offset="0.35" stop-color="#d8a890"/><stop offset="0.5" stop-color="#f8e61e"/><stop offset="0.68" stop-color="#f4b818"/><stop offset="0.86" stop-color="#f07a28"/><stop offset="1" stop-color="#e84a2a"/></linearGradient></defs>
<text x="684.6" y="109.1" font-family="Liberation Serif" font-size="13.5" text-anchor="start" fill="#222" >P-value</text>
<rect x="686.6" y="111" width="10.4" height="52.9" fill="url(#gB)"/>
<text x="698.3" y="121.0" font-family="Liberation Serif" font-size="13" text-anchor="start" fill="#222" >1e−05</text>
<text x="698.3" y="131.2" font-family="Liberation Serif" font-size="13" text-anchor="start" fill="#222" >2e−05</text>
<text x="698.3" y="141.4" font-family="Liberation Serif" font-size="13" text-anchor="start" fill="#222" >3e−05</text>
<text x="698.3" y="151.6" font-family="Liberation Serif" font-size="13" text-anchor="start" fill="#222" >4e−05</text>
<text x="698.3" y="161.8" font-family="Liberation Serif" font-size="13" text-anchor="start" fill="#222" >5e−05</text>
<text x="684.6" y="180" font-family="Liberation Serif" font-size="13.5" text-anchor="start" fill="#222" >Gene number</text>
<rect x="687.5" y="186" width="8.5" height="43" fill="#f0f0f0"/>
<circle cx="691.7" cy="192.0" r="2.2" fill="#111"/>
<text x="696.4" y="192.9" font-family="Liberation Serif" font-size="13.5" text-anchor="start" fill="#222" >40</text>
<circle cx="691.7" cy="202.8" r="2.85" fill="#111"/>
<text x="696.4" y="204.9" font-family="Liberation Serif" font-size="13.5" text-anchor="start" fill="#222" >80</text>
<circle cx="691.7" cy="213.6" r="3.45" fill="#111"/>
<text x="696.4" y="216.9" font-family="Liberation Serif" font-size="13.5" text-anchor="start" fill="#222" >120</text>
<circle cx="691.7" cy="223.9" r="4.1" fill="#111"/>
<text x="696.4" y="228.6" font-family="Liberation Serif" font-size="13.5" text-anchor="start" fill="#222" >160</text>
<line x1="590.5" y1="354" x2="590.5" y2="636" stroke="#e4e7ed" stroke-width="1"/>
<line x1="620.5" y1="354" x2="620.5" y2="636" stroke="#e4e7ed" stroke-width="1"/>
<line x1="650.5" y1="354" x2="650.5" y2="636" stroke="#e4e7ed" stroke-width="1"/>
<line x1="576.5" y1="354" x2="576.5" y2="636" stroke="#d0d4de" stroke-width="1"/>
<line x1="605.5" y1="354" x2="605.5" y2="636" stroke="#d0d4de" stroke-width="1"/>
<line x1="635.5" y1="354" x2="635.5" y2="636" stroke="#d0d4de" stroke-width="1"/>
<line x1="665.5" y1="354" x2="665.5" y2="636" stroke="#d0d4de" stroke-width="1"/>
<line x1="564" y1="370.5" x2="676" y2="370.5" stroke="#d0d4de" stroke-width="1"/>
<line x1="564" y1="398.5" x2="676" y2="398.5" stroke="#d0d4de" stroke-width="1"/>
<line x1="564" y1="425.5" x2="676" y2="425.5" stroke="#d0d4de" stroke-width="1"/>
<line x1="564" y1="453.5" x2="676" y2="453.5" stroke="#d0d4de" stroke-width="1"/>
<line x1="564" y1="480.5" x2="676" y2="480.5" stroke="#d0d4de" stroke-width="1"/>
<line x1="564" y1="508.5" x2="676" y2="508.5" stroke="#d0d4de" stroke-width="1"/>
<line x1="564" y1="535.5" x2="676" y2="535.5" stroke="#d0d4de" stroke-width="1"/>
<line x1="564" y1="563.5" x2="676" y2="563.5" stroke="#d0d4de" stroke-width="1"/>
<line x1="564" y1="590.5" x2="676" y2="590.5" stroke="#d0d4de" stroke-width="1"/>
<line x1="564" y1="618.5" x2="676" y2="618.5" stroke="#d0d4de" stroke-width="1"/>
<rect x="564.5" y="354.5" width="111" height="281" fill="none" stroke="#acafb6" stroke-width="1"/>
<line x1="561.5" y1="370.5" x2="564" y2="370.5" stroke="#444444" stroke-width="1"/>
<line x1="561.5" y1="398.5" x2="564" y2="398.5" stroke="#444444" stroke-width="1"/>
<line x1="561.5" y1="425.5" x2="564" y2="425.5" stroke="#444444" stroke-width="1"/>
<line x1="561.5" y1="453.5" x2="564" y2="453.5" stroke="#444444" stroke-width="1"/>
<line x1="561.5" y1="480.5" x2="564" y2="480.5" stroke="#444444" stroke-width="1"/>
<line x1="561.5" y1="508.5" x2="564" y2="508.5" stroke="#444444" stroke-width="1"/>
<line x1="561.5" y1="535.5" x2="564" y2="535.5" stroke="#444444" stroke-width="1"/>
<line x1="561.5" y1="563.5" x2="564" y2="563.5" stroke="#444444" stroke-width="1"/>
<line x1="561.5" y1="590.5" x2="564" y2="590.5" stroke="#444444" stroke-width="1"/>
<line x1="561.5" y1="618.5" x2="564" y2="618.5" stroke="#444444" stroke-width="1"/>
<line x1="576.5" y1="636" x2="576.5" y2="638" stroke="#444444" stroke-width="1"/>
<line x1="605.5" y1="636" x2="605.5" y2="638" stroke="#444444" stroke-width="1"/>
<line x1="635.5" y1="636" x2="635.5" y2="638" stroke="#444444" stroke-width="1"/>
<line x1="665.5" y1="636" x2="665.5" y2="638" stroke="#444444" stroke-width="1"/>
<text x="576.3" y="647.8" font-family="Liberation Serif" font-size="13.5" text-anchor="middle" fill="#222" >2</text>
<text x="606.2" y="647.8" font-family="Liberation Serif" font-size="13.5" text-anchor="middle" fill="#222" >3</text>
<text x="635.8" y="647.8" font-family="Liberation Serif" font-size="13.5" text-anchor="middle" fill="#222" >4</text>
<text x="665.6" y="647.8" font-family="Liberation Serif" font-size="13.5" text-anchor="middle" fill="#222" >5</text>
<text x="621.2" y="661.6" font-family="Liberation Serif" font-size="13.5" text-anchor="middle" fill="#222" >RichFactor</text>
<text x="562.2" y="373.9" font-family="Liberation Serif" font-size="13.5" text-anchor="end" fill="#222" >Spliceosome</text>
<text x="562.2" y="401.9" font-family="Liberation Serif" font-size="13.5" text-anchor="end" fill="#222" >RNA transport</text>
<text x="562.2" y="428.9" font-family="Liberation Serif" font-size="13.5" text-anchor="end" fill="#222" >Ras signaling pathway</text>
<text x="562.2" y="451.3" font-family="Liberation Serif" font-size="13.5" text-anchor="end" fill="#222" >Protein processing in endoplasmic</text>
<text x="562.2" y="461.0" font-family="Liberation Serif" font-size="13.5" text-anchor="end" fill="#222" >reticulum</text>
<text x="562.2" y="483.9" font-family="Liberation Serif" font-size="13.5" text-anchor="end" fill="#222" >Plant−pathogen interaction</text>
<text x="562.2" y="511.0" font-family="Liberation Serif" font-size="13.5" text-anchor="end" fill="#222" >Plant hormone signal transduction</text>
<text x="562.2" y="533.3" font-family="Liberation Serif" font-size="13.5" text-anchor="end" fill="#222" >Nicotinate and nicotinamide</text>
<text x="562.2" y="543.0" font-family="Liberation Serif" font-size="13.5" text-anchor="end" fill="#222" >metabolism</text>
<text x="562.2" y="566.3" font-family="Liberation Serif" font-size="13.5" text-anchor="end" fill="#222" >Fatty acid degradation</text>
<text x="562.2" y="593.9" font-family="Liberation Serif" font-size="13.5" text-anchor="end" fill="#222" >Apoptosis</text>
<text x="562.2" y="619.5" font-family="Liberation Serif" font-size="13.5" text-anchor="end" fill="#222" >alpha−Linolenic acid metabolism</text>
<circle cx="570.6" cy="370.5" r="2.4" fill="#2a3aa8"/>
<circle cx="574.0" cy="398.5" r="2.6" fill="#f3932c"/>
<circle cx="670.6" cy="425.5" r="3.9" fill="#e8302c"/>
<circle cx="571.3" cy="453.5" r="2.7" fill="#ef6a2e"/>
<circle cx="569.0" cy="480.5" r="2.9" fill="#ec4f2c"/>
<circle cx="583.8" cy="508.5" r="2.9" fill="#e8302c"/>
<circle cx="667.3" cy="535.5" r="1.0" fill="#f0e020"/>
<circle cx="625.7" cy="563.5" r="1.8" fill="#ee5a30"/>
<circle cx="608.7" cy="590.5" r="2.3" fill="#e8302c"/>
<circle cx="624.3" cy="618.5" r="2.1" fill="#e8302c"/>
<text x="685.9" y="436.2" font-family="Liberation Serif" font-size="13.5" text-anchor="start" fill="#222" >P-value</text>
<rect x="684.8" y="440.8" width="9.4" height="51.8" fill="url(#gD)"/>
<text x="694.9" y="460.9" font-family="Liberation Serif" font-size="13" text-anchor="start" fill="#222" >1e−04</text>
<text x="694.9" y="481.0" font-family="Liberation Serif" font-size="13" text-anchor="start" fill="#222" >5e−04</text>
<text x="685.9" y="510.8" font-family="Liberation Serif" font-size="13.5" text-anchor="start" fill="#222" >Gene number</text>
<rect x="685" y="516" width="9" height="43" fill="#f0f0f0"/>
<circle cx="689.4" cy="521.1" r="2.3" fill="#111"/>
<text x="695.0" y="522.9" font-family="Liberation Serif" font-size="13.5" text-anchor="start" fill="#222" >40</text>
<circle cx="689.4" cy="531.7" r="2.9" fill="#111"/>
<text x="695.0" y="535.2" font-family="Liberation Serif" font-size="13.5" text-anchor="start" fill="#222" >80</text>
<circle cx="689.4" cy="542.8" r="3.4" fill="#111"/>
<text x="695.0" y="546.9" font-family="Liberation Serif" font-size="13.5" text-anchor="start" fill="#222" >120</text>
<circle cx="689.4" cy="553.3" r="4.1" fill="#111"/>
<text x="695.0" y="558.6" font-family="Liberation Serif" font-size="13.5" text-anchor="start" fill="#222" >160</text>
<text x="-0.3" y="12" font-family="Liberation Sans" font-size="17.2" font-weight="bold" fill="#111">A</text>
<text x="371" y="12" font-family="Liberation Sans" font-size="17.2" font-weight="bold" fill="#111">B</text>
<text x="-0.3" y="359.8" font-family="Liberation Sans" font-size="17.2" font-weight="bold" fill="#111">C</text>
<text x="371" y="359.8" font-family="Liberation Sans" font-size="17.2" font-weight="bold" fill="#111">D</text>
</svg></body></html>
